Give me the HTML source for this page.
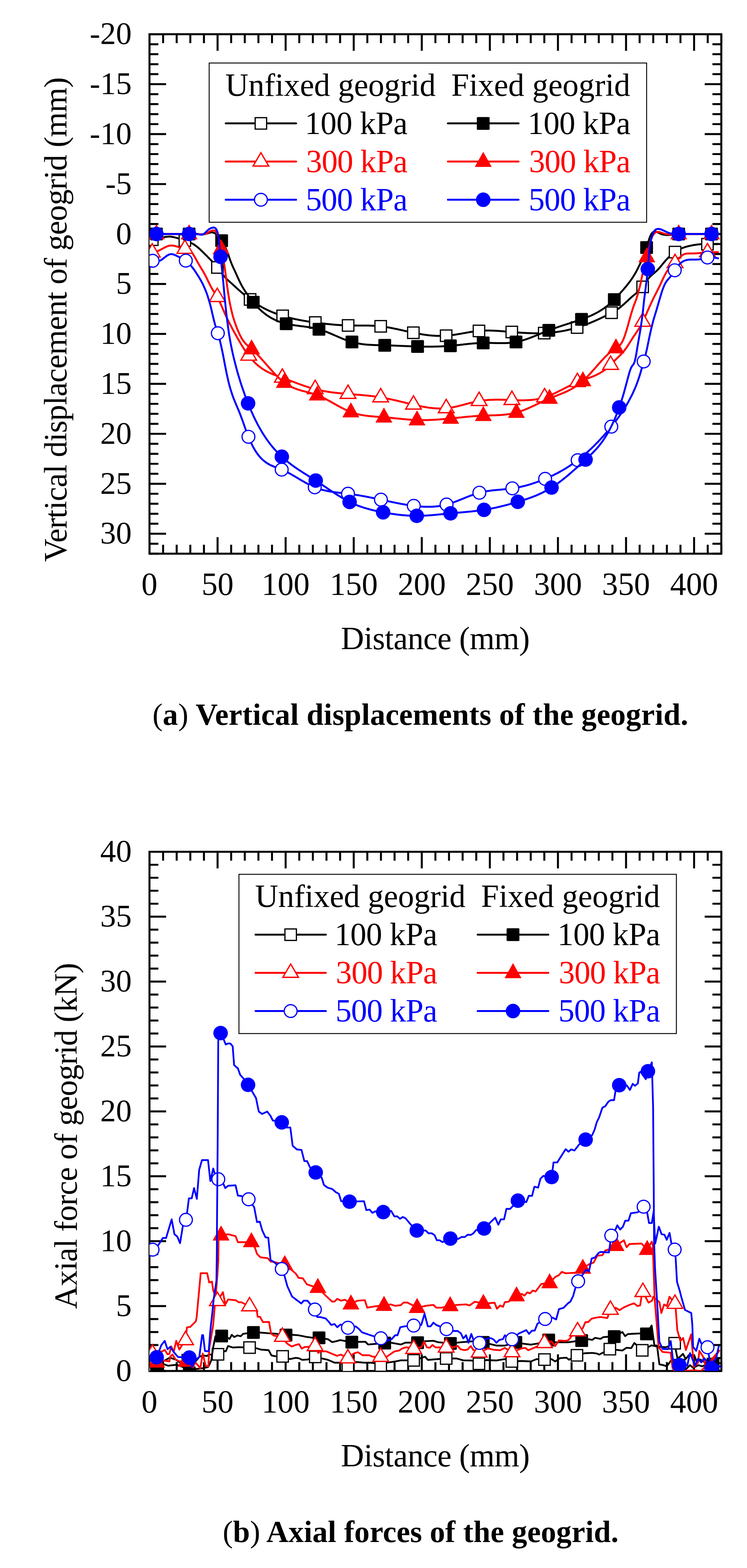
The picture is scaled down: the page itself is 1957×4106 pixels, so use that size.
<!DOCTYPE html>
<html><head><meta charset="utf-8"><style>html,body{margin:0;padding:0;background:#fff}svg{display:block}</style></head>
<body>
<svg width="1957" height="4106" viewBox="0 0 1957 4106" font-family="Liberation Serif, serif">
<rect width="1957" height="4106" fill="#fff"/>
<path d="M391.6,1449.9v-43.5M391.6,89.6v43.5M427.3,1449.9v-23.3M427.3,89.6v23.3M462.9,1449.9v-23.3M462.9,89.6v23.3M498.6,1449.9v-23.3M498.6,89.6v23.3M534.3,1449.9v-23.3M534.3,89.6v23.3M570.0,1449.9v-43.5M570.0,89.6v43.5M605.6,1449.9v-23.3M605.6,89.6v23.3M641.3,1449.9v-23.3M641.3,89.6v23.3M677.0,1449.9v-23.3M677.0,89.6v23.3M712.6,1449.9v-23.3M712.6,89.6v23.3M748.3,1449.9v-43.5M748.3,89.6v43.5M784.0,1449.9v-23.3M784.0,89.6v23.3M819.6,1449.9v-23.3M819.6,89.6v23.3M855.3,1449.9v-23.3M855.3,89.6v23.3M891.0,1449.9v-23.3M891.0,89.6v23.3M926.7,1449.9v-43.5M926.7,89.6v43.5M962.3,1449.9v-23.3M962.3,89.6v23.3M998.0,1449.9v-23.3M998.0,89.6v23.3M1033.7,1449.9v-23.3M1033.7,89.6v23.3M1069.3,1449.9v-23.3M1069.3,89.6v23.3M1105.0,1449.9v-43.5M1105.0,89.6v43.5M1140.7,1449.9v-23.3M1140.7,89.6v23.3M1176.3,1449.9v-23.3M1176.3,89.6v23.3M1212.0,1449.9v-23.3M1212.0,89.6v23.3M1247.7,1449.9v-23.3M1247.7,89.6v23.3M1283.3,1449.9v-43.5M1283.3,89.6v43.5M1319.0,1449.9v-23.3M1319.0,89.6v23.3M1354.7,1449.9v-23.3M1354.7,89.6v23.3M1390.4,1449.9v-23.3M1390.4,89.6v23.3M1426.0,1449.9v-23.3M1426.0,89.6v23.3M1461.7,1449.9v-43.5M1461.7,89.6v43.5M1497.4,1449.9v-23.3M1497.4,89.6v23.3M1533.0,1449.9v-23.3M1533.0,89.6v23.3M1568.7,1449.9v-23.3M1568.7,89.6v23.3M1604.4,1449.9v-23.3M1604.4,89.6v23.3M1640.1,1449.9v-43.5M1640.1,89.6v43.5M1675.7,1449.9v-23.3M1675.7,89.6v23.3M1711.4,1449.9v-23.3M1711.4,89.6v23.3M1747.1,1449.9v-23.3M1747.1,89.6v23.3M1782.7,1449.9v-23.3M1782.7,89.6v23.3M1818.4,1449.9v-43.5M1818.4,89.6v43.5M1854.1,1449.9v-23.3M1854.1,89.6v23.3M1889.7,1449.9v-23.3M1889.7,89.6v23.3M391.6,89.6h43.5M1889.7,89.6h-43.5M391.6,115.8h23.3M1889.7,115.8h-23.3M391.6,141.9h23.3M1889.7,141.9h-23.3M391.6,168.1h23.3M1889.7,168.1h-23.3M391.6,194.2h23.3M1889.7,194.2h-23.3M391.6,220.4h43.5M1889.7,220.4h-43.5M391.6,246.6h23.3M1889.7,246.6h-23.3M391.6,272.7h23.3M1889.7,272.7h-23.3M391.6,298.9h23.3M1889.7,298.9h-23.3M391.6,325.0h23.3M1889.7,325.0h-23.3M391.6,351.2h43.5M1889.7,351.2h-43.5M391.6,377.4h23.3M1889.7,377.4h-23.3M391.6,403.5h23.3M1889.7,403.5h-23.3M391.6,429.7h23.3M1889.7,429.7h-23.3M391.6,455.8h23.3M1889.7,455.8h-23.3M391.6,482.0h43.5M1889.7,482.0h-43.5M391.6,508.2h23.3M1889.7,508.2h-23.3M391.6,534.3h23.3M1889.7,534.3h-23.3M391.6,560.5h23.3M1889.7,560.5h-23.3M391.6,586.6h23.3M1889.7,586.6h-23.3M391.6,612.8h43.5M1889.7,612.8h-43.5M391.6,639.0h23.3M1889.7,639.0h-23.3M391.6,665.1h23.3M1889.7,665.1h-23.3M391.6,691.3h23.3M1889.7,691.3h-23.3M391.6,717.4h23.3M1889.7,717.4h-23.3M391.6,743.6h43.5M1889.7,743.6h-43.5M391.6,769.8h23.3M1889.7,769.8h-23.3M391.6,795.9h23.3M1889.7,795.9h-23.3M391.6,822.1h23.3M1889.7,822.1h-23.3M391.6,848.2h23.3M1889.7,848.2h-23.3M391.6,874.4h43.5M1889.7,874.4h-43.5M391.6,900.6h23.3M1889.7,900.6h-23.3M391.6,926.7h23.3M1889.7,926.7h-23.3M391.6,952.9h23.3M1889.7,952.9h-23.3M391.6,979.0h23.3M1889.7,979.0h-23.3M391.6,1005.2h43.5M1889.7,1005.2h-43.5M391.6,1031.4h23.3M1889.7,1031.4h-23.3M391.6,1057.5h23.3M1889.7,1057.5h-23.3M391.6,1083.7h23.3M1889.7,1083.7h-23.3M391.6,1109.8h23.3M1889.7,1109.8h-23.3M391.6,1136.0h43.5M1889.7,1136.0h-43.5M391.6,1162.2h23.3M1889.7,1162.2h-23.3M391.6,1188.3h23.3M1889.7,1188.3h-23.3M391.6,1214.5h23.3M1889.7,1214.5h-23.3M391.6,1240.6h23.3M1889.7,1240.6h-23.3M391.6,1266.8h43.5M1889.7,1266.8h-43.5M391.6,1293.0h23.3M1889.7,1293.0h-23.3M391.6,1319.1h23.3M1889.7,1319.1h-23.3M391.6,1345.3h23.3M1889.7,1345.3h-23.3M391.6,1371.4h23.3M1889.7,1371.4h-23.3M391.6,1397.6h43.5M1889.7,1397.6h-43.5M391.6,1423.8h23.3M1889.7,1423.8h-23.3M391.6,1449.9h23.3M1889.7,1449.9h-23.3" stroke="#000" stroke-width="5.2" fill="none"/>
<rect x="391.6" y="89.6" width="1498.1" height="1360.3" stroke="#000" stroke-width="5.2" fill="none"/>
<text x="345.0" y="115.4" font-size="82.5" text-anchor="end">-20</text>
<text x="345.0" y="246.2" font-size="82.5" text-anchor="end">-15</text>
<text x="345.0" y="377.0" font-size="82.5" text-anchor="end">-10</text>
<text x="345.0" y="507.8" font-size="82.5" text-anchor="end">-5</text>
<text x="345.0" y="638.6" font-size="82.5" text-anchor="end">0</text>
<text x="345.0" y="769.4" font-size="82.5" text-anchor="end">5</text>
<text x="345.0" y="900.2" font-size="82.5" text-anchor="end">10</text>
<text x="345.0" y="1031.0" font-size="82.5" text-anchor="end">15</text>
<text x="345.0" y="1161.8" font-size="82.5" text-anchor="end">20</text>
<text x="345.0" y="1292.6" font-size="82.5" text-anchor="end">25</text>
<text x="345.0" y="1423.4" font-size="82.5" text-anchor="end">30</text>
<text x="391.6" y="1558.1" font-size="84" text-anchor="middle">0</text>
<text x="570.0" y="1558.1" font-size="84" text-anchor="middle">50</text>
<text x="748.3" y="1558.1" font-size="84" text-anchor="middle">100</text>
<text x="926.7" y="1558.1" font-size="84" text-anchor="middle">150</text>
<text x="1105.0" y="1558.1" font-size="84" text-anchor="middle">200</text>
<text x="1283.3" y="1558.1" font-size="84" text-anchor="middle">250</text>
<text x="1461.7" y="1558.1" font-size="84" text-anchor="middle">300</text>
<text x="1640.1" y="1558.1" font-size="84" text-anchor="middle">350</text>
<text x="1818.4" y="1558.1" font-size="84" text-anchor="middle">400</text>
<path d="M391.6,3590.1v-43.5M391.6,2230.5v43.5M427.3,3590.1v-23.3M427.3,2230.5v23.3M462.9,3590.1v-23.3M462.9,2230.5v23.3M498.6,3590.1v-23.3M498.6,2230.5v23.3M534.3,3590.1v-23.3M534.3,2230.5v23.3M570.0,3590.1v-43.5M570.0,2230.5v43.5M605.6,3590.1v-23.3M605.6,2230.5v23.3M641.3,3590.1v-23.3M641.3,2230.5v23.3M677.0,3590.1v-23.3M677.0,2230.5v23.3M712.6,3590.1v-23.3M712.6,2230.5v23.3M748.3,3590.1v-43.5M748.3,2230.5v43.5M784.0,3590.1v-23.3M784.0,2230.5v23.3M819.6,3590.1v-23.3M819.6,2230.5v23.3M855.3,3590.1v-23.3M855.3,2230.5v23.3M891.0,3590.1v-23.3M891.0,2230.5v23.3M926.7,3590.1v-43.5M926.7,2230.5v43.5M962.3,3590.1v-23.3M962.3,2230.5v23.3M998.0,3590.1v-23.3M998.0,2230.5v23.3M1033.7,3590.1v-23.3M1033.7,2230.5v23.3M1069.3,3590.1v-23.3M1069.3,2230.5v23.3M1105.0,3590.1v-43.5M1105.0,2230.5v43.5M1140.7,3590.1v-23.3M1140.7,2230.5v23.3M1176.3,3590.1v-23.3M1176.3,2230.5v23.3M1212.0,3590.1v-23.3M1212.0,2230.5v23.3M1247.7,3590.1v-23.3M1247.7,2230.5v23.3M1283.3,3590.1v-43.5M1283.3,2230.5v43.5M1319.0,3590.1v-23.3M1319.0,2230.5v23.3M1354.7,3590.1v-23.3M1354.7,2230.5v23.3M1390.4,3590.1v-23.3M1390.4,2230.5v23.3M1426.0,3590.1v-23.3M1426.0,2230.5v23.3M1461.7,3590.1v-43.5M1461.7,2230.5v43.5M1497.4,3590.1v-23.3M1497.4,2230.5v23.3M1533.0,3590.1v-23.3M1533.0,2230.5v23.3M1568.7,3590.1v-23.3M1568.7,2230.5v23.3M1604.4,3590.1v-23.3M1604.4,2230.5v23.3M1640.1,3590.1v-43.5M1640.1,2230.5v43.5M1675.7,3590.1v-23.3M1675.7,2230.5v23.3M1711.4,3590.1v-23.3M1711.4,2230.5v23.3M1747.1,3590.1v-23.3M1747.1,2230.5v23.3M1782.7,3590.1v-23.3M1782.7,2230.5v23.3M1818.4,3590.1v-43.5M1818.4,2230.5v43.5M1854.1,3590.1v-23.3M1854.1,2230.5v23.3M1889.7,3590.1v-23.3M1889.7,2230.5v23.3M391.6,3590.1h43.5M1889.7,3590.1h-43.5M391.6,3556.1h23.3M1889.7,3556.1h-23.3M391.6,3522.1h23.3M1889.7,3522.1h-23.3M391.6,3488.1h23.3M1889.7,3488.1h-23.3M391.6,3454.1h23.3M1889.7,3454.1h-23.3M391.6,3420.2h43.5M1889.7,3420.2h-43.5M391.6,3386.2h23.3M1889.7,3386.2h-23.3M391.6,3352.2h23.3M1889.7,3352.2h-23.3M391.6,3318.2h23.3M1889.7,3318.2h-23.3M391.6,3284.2h23.3M1889.7,3284.2h-23.3M391.6,3250.2h43.5M1889.7,3250.2h-43.5M391.6,3216.2h23.3M1889.7,3216.2h-23.3M391.6,3182.2h23.3M1889.7,3182.2h-23.3M391.6,3148.2h23.3M1889.7,3148.2h-23.3M391.6,3114.2h23.3M1889.7,3114.2h-23.3M391.6,3080.2h43.5M1889.7,3080.2h-43.5M391.6,3046.3h23.3M1889.7,3046.3h-23.3M391.6,3012.3h23.3M1889.7,3012.3h-23.3M391.6,2978.3h23.3M1889.7,2978.3h-23.3M391.6,2944.3h23.3M1889.7,2944.3h-23.3M391.6,2910.3h43.5M1889.7,2910.3h-43.5M391.6,2876.3h23.3M1889.7,2876.3h-23.3M391.6,2842.3h23.3M1889.7,2842.3h-23.3M391.6,2808.3h23.3M1889.7,2808.3h-23.3M391.6,2774.3h23.3M1889.7,2774.3h-23.3M391.6,2740.3h43.5M1889.7,2740.3h-43.5M391.6,2706.4h23.3M1889.7,2706.4h-23.3M391.6,2672.4h23.3M1889.7,2672.4h-23.3M391.6,2638.4h23.3M1889.7,2638.4h-23.3M391.6,2604.4h23.3M1889.7,2604.4h-23.3M391.6,2570.4h43.5M1889.7,2570.4h-43.5M391.6,2536.4h23.3M1889.7,2536.4h-23.3M391.6,2502.4h23.3M1889.7,2502.4h-23.3M391.6,2468.4h23.3M1889.7,2468.4h-23.3M391.6,2434.4h23.3M1889.7,2434.4h-23.3M391.6,2400.4h43.5M1889.7,2400.4h-43.5M391.6,2366.5h23.3M1889.7,2366.5h-23.3M391.6,2332.5h23.3M1889.7,2332.5h-23.3M391.6,2298.5h23.3M1889.7,2298.5h-23.3M391.6,2264.5h23.3M1889.7,2264.5h-23.3M391.6,2230.5h43.5M1889.7,2230.5h-43.5" stroke="#000" stroke-width="5.2" fill="none"/>
<rect x="391.6" y="2230.5" width="1498.1" height="1359.6" stroke="#000" stroke-width="5.2" fill="none"/>
<text x="345.0" y="3615.9" font-size="82.5" text-anchor="end">0</text>
<text x="345.0" y="3446.0" font-size="82.5" text-anchor="end">5</text>
<text x="345.0" y="3276.0" font-size="82.5" text-anchor="end">10</text>
<text x="345.0" y="3106.1" font-size="82.5" text-anchor="end">15</text>
<text x="345.0" y="2936.1" font-size="82.5" text-anchor="end">20</text>
<text x="345.0" y="2766.2" font-size="82.5" text-anchor="end">25</text>
<text x="345.0" y="2596.2" font-size="82.5" text-anchor="end">30</text>
<text x="345.0" y="2426.2" font-size="82.5" text-anchor="end">35</text>
<text x="345.0" y="2256.3" font-size="82.5" text-anchor="end">40</text>
<text x="391.6" y="3699.1" font-size="84" text-anchor="middle">0</text>
<text x="570.0" y="3699.1" font-size="84" text-anchor="middle">50</text>
<text x="748.3" y="3699.1" font-size="84" text-anchor="middle">100</text>
<text x="926.7" y="3699.1" font-size="84" text-anchor="middle">150</text>
<text x="1105.0" y="3699.1" font-size="84" text-anchor="middle">200</text>
<text x="1283.3" y="3699.1" font-size="84" text-anchor="middle">250</text>
<text x="1461.7" y="3699.1" font-size="84" text-anchor="middle">300</text>
<text x="1640.1" y="3699.1" font-size="84" text-anchor="middle">350</text>
<text x="1818.4" y="3699.1" font-size="84" text-anchor="middle">400</text>
<defs><clipPath id="ca"><rect x="391.6" y="89.6" width="1498.1" height="1360.3"/></clipPath><clipPath id="cb"><rect x="391.6" y="2230.5" width="1498.1" height="1359.6"/></clipPath></defs>
<g clip-path="url(#ca)">
<path d="M393.7,628.5 395.5,628.2 397.3,628.0 399.1,627.7 400.9,627.4 402.7,627.1 404.4,626.7 406.2,626.3 408.0,626.0 409.8,625.6 411.6,625.2 413.4,624.8 415.1,624.3 416.9,623.9 418.7,623.5 420.5,623.1 422.3,622.7 424.1,622.3 425.8,621.9 427.6,621.5 429.4,621.1 431.2,620.8 433.0,620.5 434.8,620.2 436.5,620.0 438.3,619.8 440.1,619.7 441.9,619.6 443.7,619.6 445.5,619.6 447.2,619.7 449.0,619.9 450.8,620.2 452.6,620.5 454.4,620.8 456.2,621.2 457.9,621.6 459.7,622.1 461.5,622.6 463.3,623.1 465.1,623.6 466.9,624.2 468.6,624.7 470.4,625.3 472.2,625.8 474.0,626.4 475.8,627.0 477.6,627.6 479.3,628.1 481.1,628.7 482.9,629.3 484.7,629.9 486.5,630.5 488.3,631.1 490.0,631.7 491.8,632.4 493.6,633.1 495.4,633.8 497.2,634.5 499.0,635.3 500.8,636.2 502.5,637.1 504.3,638.1 506.1,639.1 507.9,640.2 509.7,641.4 511.5,642.6 513.2,643.9 515.0,645.2 516.8,646.6 518.6,648.1 520.4,649.6 522.2,651.2 523.9,652.8 525.7,654.5 527.5,656.1 529.3,657.9 531.1,659.6 532.9,661.4 534.6,663.1 536.4,664.9 538.2,666.7 540.0,668.5 541.8,670.3 543.6,672.1 545.3,673.9 547.1,675.7 548.9,677.5 550.7,679.3 552.5,681.1 554.3,682.9 556.0,684.8 557.8,686.7 559.6,688.6 561.4,690.6 563.2,692.6 565.0,694.7 566.7,696.9 568.5,699.1 570.3,701.4 572.1,703.7 573.9,706.1 575.7,708.5 577.4,711.0 579.2,713.4 581.0,715.8 582.8,718.1 584.6,720.3 586.4,722.5 588.1,724.5 589.9,726.4 591.7,728.3 593.5,730.1 595.3,731.8 597.1,733.5 598.8,735.1 600.6,736.8 602.4,738.4 604.2,740.0 606.0,741.6 607.8,743.2 609.5,744.8 611.3,746.4 613.1,748.0 614.9,749.6 616.7,751.3 618.5,752.9 620.2,754.5 622.0,756.1 623.8,757.7 625.6,759.3 627.4,760.9 629.2,762.4 630.9,764.0 632.7,765.6 634.5,767.1 636.3,768.7 638.1,770.2 639.9,771.8 641.6,773.3 643.4,774.8 645.2,776.2 647.0,777.7 648.8,779.1 650.6,780.6 652.3,782.0 654.1,783.3 655.9,784.7 657.7,786.0 659.5,787.3 661.3,788.6 663.0,789.9 664.8,791.1 666.6,792.3 668.4,793.5 670.2,794.7 672.0,795.9 673.7,797.0 675.5,798.1 677.3,799.2 679.1,800.3 680.9,801.3 682.7,802.4 684.5,803.4 686.2,804.4 688.0,805.4 689.8,806.3 691.6,807.3 693.4,808.2 695.2,809.1 696.9,810.0 698.7,810.8 700.5,811.7 702.3,812.5 704.1,813.4 705.9,814.2 707.6,815.0 709.4,815.7 711.2,816.5 713.0,817.2 714.8,818.0 716.6,818.7 718.3,819.4 720.1,820.1 721.9,820.7 723.7,821.4 725.5,822.1 727.3,822.7 729.0,823.3 730.8,823.9 732.6,824.5 734.4,825.1 736.2,825.7 738.0,826.3 739.7,826.8 741.5,827.4 743.3,827.9 745.1,828.4 746.9,829.0 748.7,829.5 750.4,830.0 752.2,830.5 754.0,830.9 755.8,831.4 757.6,831.9 759.4,832.3 761.1,832.8 762.9,833.2 764.7,833.6 766.5,834.0 768.3,834.5 770.1,834.9 771.8,835.3 773.6,835.7 775.4,836.0 777.2,836.4 779.0,836.8 780.8,837.1 782.5,837.5 784.3,837.8 786.1,838.2 787.9,838.5 789.7,838.9 791.5,839.2 793.2,839.5 795.0,839.8 796.8,840.1 798.6,840.4 800.4,840.7 802.2,841.0 803.9,841.3 805.7,841.6 807.5,841.9 809.3,842.2 811.1,842.4 812.9,842.7 814.6,843.0 816.4,843.2 818.2,843.5 820.0,843.7 821.8,844.0 823.6,844.2 825.3,844.5 827.1,844.7 828.9,845.0 830.7,845.2 832.5,845.4 834.3,845.7 836.0,845.9 837.8,846.1 839.6,846.4 841.4,846.6 843.2,846.8 845.0,847.0 846.7,847.2 848.5,847.4 850.3,847.6 852.1,847.8 853.9,848.0 855.7,848.2 857.5,848.4 859.2,848.6 861.0,848.8 862.8,849.0 864.6,849.1 866.4,849.3 868.2,849.5 869.9,849.7 871.7,849.8 873.5,850.0 875.3,850.1 877.1,850.3 878.9,850.4 880.6,850.5 882.4,850.7 884.2,850.8 886.0,850.9 887.8,851.0 889.6,851.2 891.3,851.3 893.1,851.4 894.9,851.5 896.7,851.6 898.5,851.7 900.3,851.7 902.0,851.8 903.8,851.9 905.6,852.0 907.4,852.0 909.2,852.1 911.0,852.1 912.7,852.2 914.5,852.2 916.3,852.3 918.1,852.3 919.9,852.3 921.7,852.3 923.4,852.3 925.2,852.4 927.0,852.4 928.8,852.4 930.6,852.4 932.4,852.4 934.1,852.4 935.9,852.4 937.7,852.4 939.5,852.4 941.3,852.4 943.1,852.4 944.8,852.4 946.6,852.4 948.4,852.4 950.2,852.4 952.0,852.4 953.8,852.4 955.5,852.4 957.3,852.5 959.1,852.5 960.9,852.5 962.7,852.5 964.5,852.6 966.2,852.6 968.0,852.7 969.8,852.7 971.6,852.8 973.4,852.8 975.2,852.9 976.9,853.0 978.7,853.1 980.5,853.2 982.3,853.3 984.1,853.4 985.9,853.5 987.6,853.6 989.4,853.8 991.2,853.9 993.0,854.1 994.8,854.3 996.6,854.4 998.3,854.6 1000.1,854.8 1001.9,855.1 1003.7,855.3 1005.5,855.5 1007.3,855.8 1009.0,856.1 1010.8,856.3 1012.6,856.6 1014.4,856.9 1016.2,857.2 1018.0,857.5 1019.7,857.8 1021.5,858.1 1023.3,858.5 1025.1,858.8 1026.9,859.2 1028.7,859.5 1030.4,859.9 1032.2,860.2 1034.0,860.6 1035.8,861.0 1037.6,861.3 1039.4,861.7 1041.2,862.1 1042.9,862.5 1044.7,862.9 1046.5,863.3 1048.3,863.7 1050.1,864.1 1051.9,864.5 1053.6,864.8 1055.4,865.2 1057.2,865.6 1059.0,866.1 1060.8,866.5 1062.6,866.9 1064.3,867.3 1066.1,867.6 1067.9,868.0 1069.7,868.4 1071.5,868.8 1073.3,869.2 1075.0,869.6 1076.8,870.0 1078.6,870.4 1080.4,870.7 1082.2,871.1 1084.0,871.5 1085.7,871.8 1087.5,872.2 1089.3,872.5 1091.1,872.9 1092.9,873.2 1094.7,873.6 1096.4,873.9 1098.2,874.2 1100.0,874.5 1101.8,874.8 1103.6,875.1 1105.4,875.4 1107.1,875.7 1108.9,876.0 1110.7,876.2 1112.5,876.5 1114.3,876.7 1116.1,877.0 1117.8,877.2 1119.6,877.4 1121.4,877.7 1123.2,877.9 1125.0,878.1 1126.8,878.2 1128.5,878.4 1130.3,878.6 1132.1,878.7 1133.9,878.9 1135.7,879.0 1137.5,879.1 1139.2,879.2 1141.0,879.3 1142.8,879.4 1144.6,879.5 1146.4,879.5 1148.2,879.6 1149.9,879.6 1151.7,879.6 1153.5,879.6 1155.3,879.6 1157.1,879.6 1158.9,879.6 1160.6,879.5 1162.4,879.5 1164.2,879.4 1166.0,879.3 1167.8,879.2 1169.6,879.1 1171.3,878.9 1173.1,878.8 1174.9,878.6 1176.7,878.4 1178.5,878.2 1180.3,878.0 1182.0,877.8 1183.8,877.6 1185.6,877.3 1187.4,877.1 1189.2,876.8 1191.0,876.6 1192.7,876.3 1194.5,876.0 1196.3,875.7 1198.1,875.4 1199.9,875.1 1201.7,874.8 1203.4,874.5 1205.2,874.2 1207.0,873.9 1208.8,873.6 1210.6,873.2 1212.4,872.9 1214.2,872.6 1215.9,872.3 1217.7,872.0 1219.5,871.6 1221.3,871.3 1223.1,871.0 1224.9,870.7 1226.6,870.4 1228.4,870.1 1230.2,869.8 1232.0,869.5 1233.8,869.2 1235.6,868.9 1237.3,868.7 1239.1,868.4 1240.9,868.2 1242.7,867.9 1244.5,867.7 1246.3,867.5 1248.0,867.2 1249.8,867.0 1251.6,866.9 1253.4,866.7 1255.2,866.5 1257.0,866.4 1258.7,866.2 1260.5,866.1 1262.3,866.0 1264.1,865.9 1265.9,865.8 1267.7,865.8 1269.4,865.7 1271.2,865.7 1273.0,865.6 1274.8,865.6 1276.6,865.6 1278.4,865.6 1280.1,865.6 1281.9,865.6 1283.7,865.6 1285.5,865.7 1287.3,865.7 1289.1,865.8 1290.8,865.8 1292.6,865.9 1294.4,866.0 1296.2,866.1 1298.0,866.2 1299.8,866.2 1301.5,866.3 1303.3,866.5 1305.1,866.6 1306.9,866.7 1308.7,866.8 1310.5,866.9 1312.2,867.1 1314.0,867.2 1315.8,867.3 1317.6,867.5 1319.4,867.6 1321.2,867.8 1322.9,867.9 1324.7,868.1 1326.5,868.2 1328.3,868.4 1330.1,868.5 1331.9,868.7 1333.6,868.8 1335.4,869.0 1337.2,869.1 1339.0,869.3 1340.8,869.4 1342.6,869.6 1344.3,869.7 1346.1,869.9 1347.9,870.0 1349.7,870.2 1351.5,870.3 1353.3,870.4 1355.0,870.6 1356.8,870.7 1358.6,870.8 1360.4,871.0 1362.2,871.1 1364.0,871.2 1365.7,871.3 1367.5,871.4 1369.3,871.5 1371.1,871.6 1372.9,871.7 1374.7,871.8 1376.4,871.9 1378.2,872.0 1380.0,872.1 1381.8,872.2 1383.6,872.3 1385.4,872.3 1387.1,872.4 1388.9,872.5 1390.7,872.5 1392.5,872.6 1394.3,872.6 1396.1,872.7 1397.9,872.7 1399.6,872.7 1401.4,872.7 1403.2,872.7 1405.0,872.8 1406.8,872.8 1408.6,872.7 1410.3,872.7 1412.1,872.7 1413.9,872.7 1415.7,872.6 1417.5,872.6 1419.3,872.6 1421.0,872.5 1422.8,872.4 1424.6,872.4 1426.4,872.3 1428.2,872.2 1430.0,872.1 1431.7,872.0 1433.5,871.9 1435.3,871.7 1437.1,871.6 1438.9,871.5 1440.7,871.3 1442.4,871.2 1444.2,871.0 1446.0,870.8 1447.8,870.6 1449.6,870.4 1451.4,870.2 1453.1,870.0 1454.9,869.8 1456.7,869.6 1458.5,869.3 1460.3,869.1 1462.1,868.8 1463.8,868.5 1465.6,868.3 1467.4,868.0 1469.2,867.7 1471.0,867.4 1472.8,867.1 1474.5,866.7 1476.3,866.4 1478.1,866.1 1479.9,865.7 1481.7,865.4 1483.5,865.0 1485.2,864.6 1487.0,864.2 1488.8,863.8 1490.6,863.4 1492.4,863.0 1494.2,862.5 1495.9,862.1 1497.7,861.6 1499.5,861.2 1501.3,860.7 1503.1,860.2 1504.9,859.7 1506.6,859.2 1508.4,858.7 1510.2,858.2 1512.0,857.7 1513.8,857.1 1515.6,856.6 1517.3,856.0 1519.1,855.4 1520.9,854.8 1522.7,854.2 1524.5,853.6 1526.3,853.0 1528.0,852.4 1529.8,851.7 1531.6,851.1 1533.4,850.4 1535.2,849.8 1537.0,849.1 1538.7,848.4 1540.5,847.7 1542.3,847.0 1544.1,846.3 1545.9,845.6 1547.7,844.9 1549.4,844.1 1551.2,843.4 1553.0,842.6 1554.8,841.9 1556.6,841.1 1558.4,840.3 1560.1,839.5 1561.9,838.7 1563.7,837.9 1565.5,837.1 1567.3,836.3 1569.1,835.5 1570.9,834.7 1572.6,833.8 1574.4,833.0 1576.2,832.1 1578.0,831.3 1579.8,830.4 1581.6,829.5 1583.3,828.7 1585.1,827.8 1586.9,826.9 1588.7,826.0 1590.5,825.1 1592.3,824.2 1594.0,823.2 1595.8,822.3 1597.6,821.4 1599.4,820.4 1601.2,819.5 1603.0,818.6 1604.7,817.6 1606.5,816.6 1608.3,815.7 1610.1,814.6 1611.9,813.6 1613.7,812.5 1615.4,811.4 1617.2,810.2 1619.0,809.0 1620.8,807.7 1622.6,806.4 1624.4,805.0 1626.1,803.6 1627.9,802.1 1629.7,800.6 1631.5,799.1 1633.3,797.6 1635.1,796.0 1636.8,794.4 1638.6,792.7 1640.4,791.1 1642.2,789.4 1644.0,787.8 1645.8,786.1 1647.5,784.5 1649.3,782.8 1651.1,781.2 1652.9,779.6 1654.7,778.0 1656.5,776.4 1658.2,774.9 1660.0,773.4 1661.8,771.9 1663.6,770.5 1665.4,769.1 1667.2,767.6 1668.9,766.2 1670.7,764.7 1672.5,763.1 1674.3,761.5 1676.1,759.7 1677.9,757.9 1679.6,756.0 1681.4,753.9 1683.2,751.7 1685.0,749.3 1686.8,746.7 1688.6,744.1 1690.3,741.4 1692.1,738.7 1693.9,736.1 1695.7,733.5 1697.5,731.1 1699.3,728.8 1701.0,726.7 1702.8,724.7 1704.6,722.9 1706.4,721.2 1708.2,719.6 1710.0,718.1 1711.7,716.6 1713.5,715.1 1715.3,713.6 1717.1,712.1 1718.9,710.5 1720.7,708.9 1722.4,707.1 1724.2,705.3 1726.0,703.3 1727.8,701.3 1729.6,699.3 1731.4,697.1 1733.1,695.0 1734.9,692.8 1736.7,690.6 1738.5,688.5 1740.3,686.3 1742.1,684.2 1743.8,682.2 1745.6,680.2 1747.4,678.2 1749.2,676.4 1751.0,674.6 1752.8,672.9 1754.6,671.2 1756.3,669.6 1758.1,668.1 1759.9,666.6 1761.7,665.1 1763.5,663.8 1765.3,662.4 1767.0,661.1 1768.8,659.9 1770.6,658.7 1772.4,657.6 1774.2,656.5 1776.0,655.4 1777.7,654.4 1779.5,653.4 1781.3,652.5 1783.1,651.6 1784.9,650.8 1786.7,650.0 1788.4,649.3 1790.2,648.6 1792.0,648.0 1793.8,647.4 1795.6,646.8 1797.4,646.2 1799.1,645.7 1800.9,645.3 1802.7,644.8 1804.5,644.4 1806.3,644.0 1808.1,643.6 1809.8,643.2 1811.6,642.9 1813.4,642.5 1815.2,642.2 1817.0,641.8 1818.8,641.5 1820.5,641.2 1822.3,640.9 1824.1,640.7 1825.9,640.4 1827.7,640.2 1829.5,640.0 1831.2,639.9 1833.0,639.7 1834.8,639.6 1836.6,639.5 1838.4,639.4 1840.2,639.4 1841.9,639.4 1843.7,639.4 1845.5,639.4 1847.3,639.4 1849.1,639.4 1850.9,639.5 1852.6,639.5 1854.4,639.5 1856.2,639.5 1858.0,639.5 1859.8,639.5 1861.6,639.5 1863.3,639.4 1865.1,639.4 1866.9,639.4 1868.7,639.3 1870.5,639.3 1872.3,639.2 1874.0,639.2 1875.8,639.1 1877.6,639.1 1879.4,639.0 1881.2,639.0" fill="none" stroke="#000" stroke-width="5" stroke-linejoin="round" stroke-linecap="round"/>
<rect x="384.0" y="612.7" width="30" height="30" fill="#fff" stroke="#000" stroke-width="3.2"/>
<rect x="469.3" y="614.8" width="30" height="30" fill="#fff" stroke="#000" stroke-width="3.2"/>
<rect x="554.6" y="685.4" width="30" height="30" fill="#fff" stroke="#000" stroke-width="3.2"/>
<rect x="640.2" y="769.1" width="30" height="30" fill="#fff" stroke="#000" stroke-width="3.2"/>
<rect x="725.5" y="812.1" width="30" height="30" fill="#fff" stroke="#000" stroke-width="3.2"/>
<rect x="811.1" y="829.6" width="30" height="30" fill="#fff" stroke="#000" stroke-width="3.2"/>
<rect x="897.0" y="837.2" width="30" height="30" fill="#fff" stroke="#000" stroke-width="3.2"/>
<rect x="982.3" y="839.5" width="30" height="30" fill="#fff" stroke="#000" stroke-width="3.2"/>
<rect x="1067.9" y="856.3" width="30" height="30" fill="#fff" stroke="#000" stroke-width="3.2"/>
<rect x="1153.8" y="864.1" width="30" height="30" fill="#fff" stroke="#000" stroke-width="3.2"/>
<rect x="1239.8" y="851.6" width="30" height="30" fill="#fff" stroke="#000" stroke-width="3.2"/>
<rect x="1325.8" y="854.4" width="30" height="30" fill="#fff" stroke="#000" stroke-width="3.2"/>
<rect x="1410.7" y="857.3" width="30" height="30" fill="#fff" stroke="#000" stroke-width="3.2"/>
<rect x="1497.0" y="842.7" width="30" height="30" fill="#fff" stroke="#000" stroke-width="3.2"/>
<rect x="1587.2" y="803.9" width="30" height="30" fill="#fff" stroke="#000" stroke-width="3.2"/>
<rect x="1668.6" y="736.2" width="30" height="30" fill="#fff" stroke="#000" stroke-width="3.2"/>
<rect x="1753.5" y="645.1" width="30" height="30" fill="#fff" stroke="#000" stroke-width="3.2"/>
<rect x="1838.4" y="624.5" width="30" height="30" fill="#fff" stroke="#000" stroke-width="3.2"/>
<path d="M393.7,662.5 395.5,662.2 397.3,661.8 399.1,661.4 400.9,661.1 402.7,660.7 404.4,660.3 406.2,659.8 408.0,659.4 409.8,658.8 411.6,658.2 413.4,657.5 415.1,656.7 416.9,655.9 418.7,655.0 420.5,654.1 422.3,653.1 424.1,652.1 425.8,651.2 427.6,650.2 429.4,649.2 431.2,648.3 433.0,647.3 434.8,646.5 436.5,645.7 438.3,645.0 440.1,644.4 441.9,643.8 443.7,643.4 445.5,643.1 447.2,642.9 449.0,642.9 450.8,642.9 452.6,643.1 454.4,643.3 456.2,643.6 457.9,644.0 459.7,644.5 461.5,645.0 463.3,645.5 465.1,646.1 466.9,646.7 468.6,647.3 470.4,647.9 472.2,648.5 474.0,649.0 475.8,649.6 477.6,650.1 479.3,650.6 481.1,651.1 482.9,651.5 484.7,651.8 486.5,652.2 488.3,652.5 490.0,652.9 491.8,653.4 493.6,654.0 495.4,654.9 497.2,655.9 499.0,657.3 500.8,659.1 502.5,661.1 504.3,663.5 506.1,666.1 507.9,669.0 509.7,672.0 511.5,675.2 513.2,678.4 515.0,681.7 516.8,684.9 518.6,688.1 520.4,691.2 522.2,694.3 523.9,697.2 525.7,700.2 527.5,703.1 529.3,706.1 531.1,709.0 532.9,712.1 534.6,715.2 536.4,718.5 538.2,721.8 540.0,725.3 541.8,728.9 543.6,732.6 545.3,736.2 547.1,739.9 548.9,743.5 550.7,747.1 552.5,750.5 554.3,753.8 556.0,756.9 557.8,759.9 559.6,762.7 561.4,765.4 563.2,768.1 565.0,770.8 566.7,773.6 568.5,776.6 570.3,779.8 572.1,783.2 573.9,786.8 575.7,790.6 577.4,794.4 579.2,798.4 581.0,802.5 582.8,806.6 584.6,810.7 586.4,814.8 588.1,818.9 589.9,822.9 591.7,826.8 593.5,830.6 595.3,834.3 597.1,838.0 598.8,841.6 600.6,845.1 602.4,848.6 604.2,852.0 606.0,855.4 607.8,858.8 609.5,862.2 611.3,865.5 613.1,868.8 614.9,872.1 616.7,875.3 618.5,878.5 620.2,881.7 622.0,884.9 623.8,888.0 625.6,891.1 627.4,894.2 629.2,897.2 630.9,900.2 632.7,903.2 634.5,906.1 636.3,909.0 638.1,911.8 639.9,914.6 641.6,917.3 643.4,920.0 645.2,922.6 647.0,925.1 648.8,927.6 650.6,930.0 652.3,932.4 654.1,934.6 655.9,936.8 657.7,938.9 659.5,941.0 661.3,943.0 663.0,944.9 664.8,946.8 666.6,948.6 668.4,950.3 670.2,952.0 672.0,953.7 673.7,955.2 675.5,956.8 677.3,958.2 679.1,959.7 680.9,961.0 682.7,962.4 684.5,963.6 686.2,964.9 688.0,966.1 689.8,967.2 691.6,968.3 693.4,969.4 695.2,970.5 696.9,971.5 698.7,972.4 700.5,973.4 702.3,974.3 704.1,975.2 705.9,976.0 707.6,976.8 709.4,977.7 711.2,978.4 713.0,979.2 714.8,979.9 716.6,980.7 718.3,981.4 720.1,982.1 721.9,982.8 723.7,983.4 725.5,984.1 727.3,984.8 729.0,985.4 730.8,986.0 732.6,986.7 734.4,987.3 736.2,988.0 738.0,988.6 739.7,989.2 741.5,989.9 743.3,990.5 745.1,991.2 746.9,991.9 748.7,992.5 750.4,993.2 752.2,993.8 754.0,994.5 755.8,995.2 757.6,995.8 759.4,996.5 761.1,997.2 762.9,997.9 764.7,998.5 766.5,999.2 768.3,999.9 770.1,1000.5 771.8,1001.2 773.6,1001.9 775.4,1002.6 777.2,1003.2 779.0,1003.9 780.8,1004.5 782.5,1005.2 784.3,1005.8 786.1,1006.5 787.9,1007.1 789.7,1007.8 791.5,1008.4 793.2,1009.0 795.0,1009.6 796.8,1010.3 798.6,1010.9 800.4,1011.5 802.2,1012.1 803.9,1012.6 805.7,1013.2 807.5,1013.8 809.3,1014.4 811.1,1014.9 812.9,1015.4 814.6,1016.0 816.4,1016.5 818.2,1017.0 820.0,1017.5 821.8,1018.0 823.6,1018.5 825.3,1019.0 827.1,1019.4 828.9,1019.9 830.7,1020.3 832.5,1020.7 834.3,1021.1 836.0,1021.6 837.8,1021.9 839.6,1022.3 841.4,1022.7 843.2,1023.1 845.0,1023.4 846.7,1023.7 848.5,1024.1 850.3,1024.4 852.1,1024.7 853.9,1025.0 855.7,1025.3 857.5,1025.6 859.2,1025.9 861.0,1026.2 862.8,1026.4 864.6,1026.7 866.4,1026.9 868.2,1027.2 869.9,1027.4 871.7,1027.6 873.5,1027.9 875.3,1028.1 877.1,1028.3 878.9,1028.5 880.6,1028.7 882.4,1028.9 884.2,1029.1 886.0,1029.3 887.8,1029.5 889.6,1029.6 891.3,1029.8 893.1,1030.0 894.9,1030.2 896.7,1030.3 898.5,1030.5 900.3,1030.6 902.0,1030.8 903.8,1031.0 905.6,1031.1 907.4,1031.3 909.2,1031.4 911.0,1031.5 912.7,1031.7 914.5,1031.8 916.3,1032.0 918.1,1032.1 919.9,1032.3 921.7,1032.4 923.4,1032.5 925.2,1032.7 927.0,1032.8 928.8,1033.0 930.6,1033.1 932.4,1033.2 934.1,1033.4 935.9,1033.5 937.7,1033.7 939.5,1033.8 941.3,1034.0 943.1,1034.1 944.8,1034.3 946.6,1034.4 948.4,1034.6 950.2,1034.8 952.0,1034.9 953.8,1035.1 955.5,1035.2 957.3,1035.4 959.1,1035.6 960.9,1035.8 962.7,1036.0 964.5,1036.1 966.2,1036.3 968.0,1036.5 969.8,1036.7 971.6,1036.9 973.4,1037.1 975.2,1037.4 976.9,1037.6 978.7,1037.8 980.5,1038.0 982.3,1038.3 984.1,1038.5 985.9,1038.8 987.6,1039.0 989.4,1039.3 991.2,1039.5 993.0,1039.8 994.8,1040.1 996.6,1040.4 998.3,1040.7 1000.1,1041.0 1001.9,1041.3 1003.7,1041.6 1005.5,1042.0 1007.3,1042.3 1009.0,1042.6 1010.8,1043.0 1012.6,1043.3 1014.4,1043.7 1016.2,1044.0 1018.0,1044.4 1019.7,1044.8 1021.5,1045.2 1023.3,1045.5 1025.1,1045.9 1026.9,1046.3 1028.7,1046.7 1030.4,1047.1 1032.2,1047.5 1034.0,1047.9 1035.8,1048.3 1037.6,1048.7 1039.4,1049.2 1041.2,1049.6 1042.9,1050.0 1044.7,1050.4 1046.5,1050.8 1048.3,1051.3 1050.1,1051.7 1051.9,1052.1 1053.6,1052.5 1055.4,1053.0 1057.2,1053.4 1059.0,1053.8 1060.8,1054.3 1062.6,1054.7 1064.3,1055.1 1066.1,1055.6 1067.9,1056.0 1069.7,1056.4 1071.5,1056.8 1073.3,1057.3 1075.0,1057.7 1076.8,1058.1 1078.6,1058.5 1080.4,1058.9 1082.2,1059.4 1084.0,1059.8 1085.7,1060.2 1087.5,1060.6 1089.3,1061.0 1091.1,1061.4 1092.9,1061.8 1094.7,1062.2 1096.4,1062.6 1098.2,1062.9 1100.0,1063.3 1101.8,1063.7 1103.6,1064.0 1105.4,1064.4 1107.1,1064.7 1108.9,1065.1 1110.7,1065.4 1112.5,1065.7 1114.3,1066.0 1116.1,1066.3 1117.8,1066.6 1119.6,1066.9 1121.4,1067.2 1123.2,1067.4 1125.0,1067.7 1126.8,1067.9 1128.5,1068.1 1130.3,1068.3 1132.1,1068.5 1133.9,1068.7 1135.7,1068.9 1137.5,1069.1 1139.2,1069.2 1141.0,1069.3 1142.8,1069.4 1144.6,1069.5 1146.4,1069.6 1148.2,1069.7 1149.9,1069.7 1151.7,1069.7 1153.5,1069.8 1155.3,1069.7 1157.1,1069.7 1158.9,1069.7 1160.6,1069.6 1162.4,1069.5 1164.2,1069.4 1166.0,1069.3 1167.8,1069.1 1169.6,1069.0 1171.3,1068.8 1173.1,1068.6 1174.9,1068.4 1176.7,1068.1 1178.5,1067.8 1180.3,1067.6 1182.0,1067.3 1183.8,1066.9 1185.6,1066.6 1187.4,1066.3 1189.2,1065.9 1191.0,1065.5 1192.7,1065.1 1194.5,1064.8 1196.3,1064.3 1198.1,1063.9 1199.9,1063.5 1201.7,1063.1 1203.4,1062.6 1205.2,1062.2 1207.0,1061.7 1208.8,1061.3 1210.6,1060.8 1212.4,1060.4 1214.2,1059.9 1215.9,1059.4 1217.7,1059.0 1219.5,1058.5 1221.3,1058.0 1223.1,1057.5 1224.9,1057.1 1226.6,1056.6 1228.4,1056.2 1230.2,1055.7 1232.0,1055.2 1233.8,1054.8 1235.6,1054.4 1237.3,1053.9 1239.1,1053.5 1240.9,1053.1 1242.7,1052.7 1244.5,1052.3 1246.3,1051.9 1248.0,1051.5 1249.8,1051.2 1251.6,1050.8 1253.4,1050.5 1255.2,1050.2 1257.0,1049.9 1258.7,1049.6 1260.5,1049.3 1262.3,1049.1 1264.1,1048.9 1265.9,1048.6 1267.7,1048.4 1269.4,1048.2 1271.2,1048.0 1273.0,1047.9 1274.8,1047.7 1276.6,1047.6 1278.4,1047.4 1280.1,1047.3 1281.9,1047.2 1283.7,1047.1 1285.5,1047.0 1287.3,1046.9 1289.1,1046.9 1290.8,1046.8 1292.6,1046.7 1294.4,1046.7 1296.2,1046.7 1298.0,1046.6 1299.8,1046.6 1301.5,1046.6 1303.3,1046.6 1305.1,1046.6 1306.9,1046.6 1308.7,1046.6 1310.5,1046.7 1312.2,1046.7 1314.0,1046.7 1315.8,1046.8 1317.6,1046.8 1319.4,1046.8 1321.2,1046.9 1322.9,1046.9 1324.7,1047.0 1326.5,1047.1 1328.3,1047.1 1330.1,1047.2 1331.9,1047.2 1333.6,1047.3 1335.4,1047.4 1337.2,1047.4 1339.0,1047.5 1340.8,1047.6 1342.6,1047.6 1344.3,1047.7 1346.1,1047.8 1347.9,1047.8 1349.7,1047.9 1351.5,1047.9 1353.3,1048.0 1355.0,1048.0 1356.8,1048.1 1358.6,1048.1 1360.4,1048.2 1362.2,1048.2 1364.0,1048.2 1365.7,1048.2 1367.5,1048.2 1369.3,1048.2 1371.1,1048.2 1372.9,1048.2 1374.7,1048.2 1376.4,1048.1 1378.2,1048.1 1380.0,1048.0 1381.8,1047.9 1383.6,1047.8 1385.4,1047.7 1387.1,1047.6 1388.9,1047.5 1390.7,1047.4 1392.5,1047.2 1394.3,1047.0 1396.1,1046.8 1397.9,1046.6 1399.6,1046.4 1401.4,1046.2 1403.2,1045.9 1405.0,1045.6 1406.8,1045.3 1408.6,1045.0 1410.3,1044.7 1412.1,1044.3 1413.9,1043.9 1415.7,1043.5 1417.5,1043.1 1419.3,1042.7 1421.0,1042.2 1422.8,1041.7 1424.6,1041.2 1426.4,1040.6 1428.2,1040.1 1430.0,1039.5 1431.7,1038.8 1433.5,1038.2 1435.3,1037.5 1437.1,1036.9 1438.9,1036.1 1440.7,1035.4 1442.4,1034.7 1444.2,1033.9 1446.0,1033.1 1447.8,1032.3 1449.6,1031.5 1451.4,1030.7 1453.1,1029.9 1454.9,1029.0 1456.7,1028.2 1458.5,1027.3 1460.3,1026.4 1462.1,1025.5 1463.8,1024.6 1465.6,1023.7 1467.4,1022.8 1469.2,1021.9 1471.0,1021.0 1472.8,1020.1 1474.5,1019.2 1476.3,1018.3 1478.1,1017.3 1479.9,1016.4 1481.7,1015.5 1483.5,1014.6 1485.2,1013.7 1487.0,1012.8 1488.8,1011.9 1490.6,1011.0 1492.4,1010.1 1494.2,1009.2 1495.9,1008.3 1497.7,1007.5 1499.5,1006.6 1501.3,1005.8 1503.1,1004.9 1504.9,1004.1 1506.6,1003.3 1508.4,1002.6 1510.2,1001.8 1512.0,1001.0 1513.8,1000.3 1515.6,999.6 1517.3,998.9 1519.1,998.2 1520.9,997.6 1522.7,996.9 1524.5,996.3 1526.3,995.6 1528.0,995.0 1529.8,994.4 1531.6,993.7 1533.4,993.1 1535.2,992.5 1537.0,991.9 1538.7,991.2 1540.5,990.6 1542.3,989.9 1544.1,989.3 1545.9,988.6 1547.7,988.0 1549.4,987.3 1551.2,986.6 1553.0,985.8 1554.8,985.1 1556.6,984.4 1558.4,983.6 1560.1,982.8 1561.9,981.9 1563.7,981.1 1565.5,980.2 1567.3,979.3 1569.1,978.3 1570.9,977.4 1572.6,976.4 1574.4,975.3 1576.2,974.2 1578.0,973.1 1579.8,971.9 1581.6,970.7 1583.3,969.5 1585.1,968.1 1586.9,966.8 1588.7,965.4 1590.5,963.9 1592.3,962.4 1594.0,960.9 1595.8,959.3 1597.6,957.6 1599.4,955.9 1601.2,954.1 1603.0,952.2 1604.7,950.3 1606.5,948.4 1608.3,946.6 1610.1,944.7 1611.9,942.8 1613.7,941.0 1615.4,939.3 1617.2,937.5 1619.0,935.8 1620.8,934.0 1622.6,932.3 1624.4,930.5 1626.1,928.7 1627.9,926.8 1629.7,924.9 1631.5,922.9 1633.3,920.8 1635.1,918.7 1636.8,916.4 1638.6,914.0 1640.4,911.6 1642.2,909.0 1644.0,906.3 1645.8,903.6 1647.5,900.8 1649.3,898.0 1651.1,895.2 1652.9,892.3 1654.7,889.5 1656.5,886.7 1658.2,883.9 1660.0,881.2 1661.8,878.5 1663.6,875.9 1665.4,873.3 1667.2,870.6 1668.9,868.0 1670.7,865.4 1672.5,862.6 1674.3,859.8 1676.1,857.0 1677.9,854.0 1679.6,850.9 1681.4,847.6 1683.2,844.2 1685.0,840.6 1686.8,836.8 1688.6,832.9 1690.3,828.9 1692.1,824.8 1693.9,820.7 1695.7,816.6 1697.5,812.5 1699.3,808.4 1701.0,804.4 1702.8,800.5 1704.6,796.6 1706.4,792.7 1708.2,788.9 1710.0,785.2 1711.7,781.5 1713.5,777.9 1715.3,774.4 1717.1,770.9 1718.9,767.4 1720.7,763.9 1722.4,760.4 1724.2,756.9 1726.0,753.3 1727.8,749.6 1729.6,745.8 1731.4,742.0 1733.1,738.1 1734.9,734.2 1736.7,730.4 1738.5,726.7 1740.3,723.1 1742.1,719.6 1743.8,716.3 1745.6,713.2 1747.4,710.4 1749.2,707.9 1751.0,705.6 1752.8,703.6 1754.6,701.7 1756.3,700.0 1758.1,698.4 1759.9,696.9 1761.7,695.4 1763.5,693.9 1765.3,692.3 1767.0,690.6 1768.8,688.8 1770.6,686.8 1772.4,684.8 1774.2,682.6 1776.0,680.4 1777.7,678.2 1779.5,676.1 1781.3,674.0 1783.1,672.2 1784.9,670.5 1786.7,669.0 1788.4,667.7 1790.2,666.7 1792.0,665.8 1793.8,665.2 1795.6,664.7 1797.4,664.3 1799.1,664.0 1800.9,663.9 1802.7,663.8 1804.5,663.8 1806.3,663.8 1808.1,663.8 1809.8,663.8 1811.6,663.8 1813.4,663.8 1815.2,663.8 1817.0,663.7 1818.8,663.7 1820.5,663.6 1822.3,663.5 1824.1,663.4 1825.9,663.2 1827.7,663.1 1829.5,662.9 1831.2,662.8 1833.0,662.6 1834.8,662.4 1836.6,662.2 1838.4,662.1 1840.2,661.9 1841.9,661.7 1843.7,661.5 1845.5,661.3 1847.3,661.2 1849.1,661.0 1850.9,660.9 1852.6,660.7 1854.4,660.6 1856.2,660.5 1858.0,660.4 1859.8,660.4 1861.6,660.3 1863.3,660.3 1865.1,660.3 1866.9,660.3 1868.7,660.3 1870.5,660.3 1872.3,660.3 1874.0,660.3 1875.8,660.3 1877.6,660.3 1879.4,660.4 1881.2,660.4" fill="none" stroke="#f00" stroke-width="5" stroke-linejoin="round" stroke-linecap="round"/>
<path d="M399.0,638.1L419.5,673.1L378.5,673.1Z" fill="#fff" stroke="#f00" stroke-width="3.4"/>
<path d="M484.3,628.4L504.8,663.4L463.8,663.4Z" fill="#fff" stroke="#f00" stroke-width="3.4"/>
<path d="M569.2,754.5L589.7,789.5L548.7,789.5Z" fill="#fff" stroke="#f00" stroke-width="3.4"/>
<path d="M651.6,908.1L672.1,943.1L631.1,943.1Z" fill="#fff" stroke="#f00" stroke-width="3.4"/>
<path d="M739.7,965.9L760.2,1000.9L719.2,1000.9Z" fill="#fff" stroke="#f00" stroke-width="3.4"/>
<path d="M825.7,995.7L846.2,1030.7L805.2,1030.7Z" fill="#fff" stroke="#f00" stroke-width="3.4"/>
<path d="M911.8,1008.3L932.3,1043.3L891.3,1043.3Z" fill="#fff" stroke="#f00" stroke-width="3.4"/>
<path d="M997.3,1017.2L1017.8,1052.2L976.8,1052.2Z" fill="#fff" stroke="#f00" stroke-width="3.4"/>
<path d="M1083.2,1036.3L1103.7,1071.3L1062.7,1071.3Z" fill="#fff" stroke="#f00" stroke-width="3.4"/>
<path d="M1169.0,1045.7L1189.5,1080.7L1148.5,1080.7Z" fill="#fff" stroke="#f00" stroke-width="3.4"/>
<path d="M1255.2,1026.9L1275.7,1061.9L1234.7,1061.9Z" fill="#fff" stroke="#f00" stroke-width="3.4"/>
<path d="M1341.1,1024.2L1361.6,1059.2L1320.6,1059.2Z" fill="#fff" stroke="#f00" stroke-width="3.4"/>
<path d="M1426.7,1017.2L1447.2,1052.2L1406.2,1052.2Z" fill="#fff" stroke="#f00" stroke-width="3.4"/>
<path d="M1512.7,977.4L1533.2,1012.4L1492.2,1012.4Z" fill="#fff" stroke="#f00" stroke-width="3.4"/>
<path d="M1599.7,932.2L1620.2,967.2L1579.2,967.2Z" fill="#fff" stroke="#f00" stroke-width="3.4"/>
<path d="M1683.9,819.4L1704.4,854.4L1663.4,854.4Z" fill="#fff" stroke="#f00" stroke-width="3.4"/>
<path d="M1768.5,665.9L1789.0,700.9L1748.0,700.9Z" fill="#fff" stroke="#f00" stroke-width="3.4"/>
<path d="M1853.4,637.3L1873.9,672.3L1832.9,672.3Z" fill="#fff" stroke="#f00" stroke-width="3.4"/>
<path d="M393.7,683.4 395.5,683.2 397.3,683.0 399.1,682.9 400.9,682.9 402.7,683.1 404.4,683.3 406.2,683.6 408.0,683.8 409.8,684.0 411.6,684.1 413.4,684.1 415.1,683.8 416.9,683.4 418.7,682.7 420.5,681.9 422.3,680.8 424.1,679.7 425.8,678.4 427.6,677.1 429.4,675.7 431.2,674.3 433.0,672.9 434.8,671.5 436.5,670.2 438.3,669.0 440.1,667.9 441.9,667.0 443.7,666.3 445.5,665.8 447.2,665.6 449.0,665.5 450.8,665.6 452.6,666.0 454.4,666.4 456.2,667.0 457.9,667.7 459.7,668.5 461.5,669.3 463.3,670.2 465.1,671.0 466.9,671.9 468.6,672.8 470.4,673.6 472.2,674.4 474.0,675.2 475.8,676.0 477.6,676.9 479.3,677.7 481.1,678.7 482.9,679.7 484.7,680.9 486.5,682.1 488.3,683.5 490.0,685.0 491.8,686.6 493.6,688.4 495.4,690.2 497.2,692.2 499.0,694.2 500.8,696.3 502.5,698.5 504.3,700.8 506.1,703.2 507.9,705.6 509.7,708.2 511.5,710.7 513.2,713.4 515.0,716.1 516.8,718.8 518.6,721.6 520.4,724.5 522.2,727.4 523.9,730.4 525.7,733.5 527.5,736.8 529.3,740.1 531.1,743.6 532.9,747.3 534.6,751.2 536.4,755.3 538.2,759.5 540.0,764.1 541.8,768.9 543.6,774.0 545.3,779.4 547.1,785.2 548.9,791.4 550.7,797.9 552.5,804.9 554.3,812.3 556.0,820.0 557.8,827.6 559.6,835.2 561.4,842.4 563.2,849.1 565.0,855.1 566.7,860.6 568.5,866.0 570.3,871.4 572.1,877.3 573.9,883.6 575.7,890.3 577.4,897.5 579.2,905.2 581.0,913.3 582.8,921.8 584.6,930.8 586.4,940.0 588.1,949.3 589.9,958.6 591.7,967.8 593.5,976.7 595.3,985.1 597.1,993.1 598.8,1000.5 600.6,1007.5 602.4,1014.0 604.2,1020.2 606.0,1025.9 607.8,1031.4 609.5,1036.5 611.3,1041.3 613.1,1046.0 614.9,1050.4 616.7,1054.8 618.5,1059.0 620.2,1063.2 622.0,1067.3 623.8,1071.5 625.6,1075.8 627.4,1080.2 629.2,1084.7 630.9,1089.4 632.7,1094.2 634.5,1099.1 636.3,1104.0 638.1,1109.0 639.9,1114.1 641.6,1119.1 643.4,1124.0 645.2,1128.9 647.0,1133.7 648.8,1138.4 650.6,1143.0 652.3,1147.3 654.1,1151.5 655.9,1155.6 657.7,1159.4 659.5,1163.1 661.3,1166.7 663.0,1170.1 664.8,1173.3 666.6,1176.4 668.4,1179.4 670.2,1182.2 672.0,1184.9 673.7,1187.4 675.5,1189.9 677.3,1192.2 679.1,1194.4 680.9,1196.5 682.7,1198.5 684.5,1200.4 686.2,1202.1 688.0,1203.8 689.8,1205.4 691.6,1207.0 693.4,1208.4 695.2,1209.7 696.9,1211.0 698.7,1212.2 700.5,1213.4 702.3,1214.5 704.1,1215.5 705.9,1216.5 707.6,1217.4 709.4,1218.3 711.2,1219.1 713.0,1219.9 714.8,1220.7 716.6,1221.4 718.3,1222.1 720.1,1222.8 721.9,1223.5 723.7,1224.2 725.5,1224.8 727.3,1225.5 729.0,1226.2 730.8,1226.8 732.6,1227.5 734.4,1228.2 736.2,1228.9 738.0,1229.7 739.7,1230.4 741.5,1231.2 743.3,1232.0 745.1,1232.8 746.9,1233.7 748.7,1234.5 750.4,1235.4 752.2,1236.3 754.0,1237.3 755.8,1238.2 757.6,1239.2 759.4,1240.2 761.1,1241.1 762.9,1242.1 764.7,1243.1 766.5,1244.2 768.3,1245.2 770.1,1246.2 771.8,1247.3 773.6,1248.3 775.4,1249.4 777.2,1250.4 779.0,1251.5 780.8,1252.5 782.5,1253.6 784.3,1254.7 786.1,1255.7 787.9,1256.8 789.7,1257.8 791.5,1258.9 793.2,1259.9 795.0,1260.9 796.8,1261.9 798.6,1263.0 800.4,1264.0 802.2,1265.0 803.9,1265.9 805.7,1266.9 807.5,1267.8 809.3,1268.8 811.1,1269.7 812.9,1270.6 814.6,1271.5 816.4,1272.3 818.2,1273.1 820.0,1274.0 821.8,1274.7 823.6,1275.5 825.3,1276.2 827.1,1277.0 828.9,1277.6 830.7,1278.3 832.5,1278.9 834.3,1279.6 836.0,1280.1 837.8,1280.7 839.6,1281.3 841.4,1281.8 843.2,1282.3 845.0,1282.8 846.7,1283.2 848.5,1283.7 850.3,1284.1 852.1,1284.5 853.9,1284.9 855.7,1285.3 857.5,1285.7 859.2,1286.0 861.0,1286.4 862.8,1286.7 864.6,1287.0 866.4,1287.3 868.2,1287.6 869.9,1287.9 871.7,1288.1 873.5,1288.4 875.3,1288.6 877.1,1288.9 878.9,1289.1 880.6,1289.4 882.4,1289.6 884.2,1289.8 886.0,1290.0 887.8,1290.2 889.6,1290.4 891.3,1290.6 893.1,1290.8 894.9,1291.0 896.7,1291.2 898.5,1291.4 900.3,1291.6 902.0,1291.8 903.8,1292.0 905.6,1292.2 907.4,1292.4 909.2,1292.7 911.0,1292.9 912.7,1293.1 914.5,1293.3 916.3,1293.6 918.1,1293.8 919.9,1294.0 921.7,1294.3 923.4,1294.5 925.2,1294.8 927.0,1295.1 928.8,1295.3 930.6,1295.6 932.4,1295.9 934.1,1296.2 935.9,1296.4 937.7,1296.7 939.5,1297.0 941.3,1297.3 943.1,1297.6 944.8,1297.9 946.6,1298.2 948.4,1298.6 950.2,1298.9 952.0,1299.2 953.8,1299.5 955.5,1299.8 957.3,1300.2 959.1,1300.5 960.9,1300.8 962.7,1301.2 964.5,1301.5 966.2,1301.9 968.0,1302.2 969.8,1302.6 971.6,1302.9 973.4,1303.3 975.2,1303.6 976.9,1304.0 978.7,1304.4 980.5,1304.7 982.3,1305.1 984.1,1305.5 985.9,1305.8 987.6,1306.2 989.4,1306.6 991.2,1307.0 993.0,1307.3 994.8,1307.7 996.6,1308.1 998.3,1308.5 1000.1,1308.9 1001.9,1309.2 1003.7,1309.6 1005.5,1310.0 1007.3,1310.4 1009.0,1310.8 1010.8,1311.2 1012.6,1311.5 1014.4,1311.9 1016.2,1312.3 1018.0,1312.7 1019.7,1313.1 1021.5,1313.4 1023.3,1313.8 1025.1,1314.2 1026.9,1314.6 1028.7,1315.0 1030.4,1315.3 1032.2,1315.7 1034.0,1316.1 1035.8,1316.4 1037.6,1316.8 1039.4,1317.1 1041.2,1317.5 1042.9,1317.9 1044.7,1318.2 1046.5,1318.5 1048.3,1318.9 1050.1,1319.2 1051.9,1319.6 1053.6,1319.9 1055.4,1320.2 1057.2,1320.5 1059.0,1320.8 1060.8,1321.1 1062.6,1321.5 1064.3,1321.8 1066.1,1322.0 1067.9,1322.3 1069.7,1322.6 1071.5,1322.9 1073.3,1323.2 1075.0,1323.4 1076.8,1323.7 1078.6,1323.9 1080.4,1324.2 1082.2,1324.4 1084.0,1324.6 1085.7,1324.8 1087.5,1325.0 1089.3,1325.2 1091.1,1325.4 1092.9,1325.6 1094.7,1325.8 1096.4,1326.0 1098.2,1326.1 1100.0,1326.3 1101.8,1326.4 1103.6,1326.5 1105.4,1326.6 1107.1,1326.7 1108.9,1326.8 1110.7,1326.9 1112.5,1327.0 1114.3,1327.0 1116.1,1327.1 1117.8,1327.1 1119.6,1327.1 1121.4,1327.1 1123.2,1327.1 1125.0,1327.1 1126.8,1327.1 1128.5,1327.0 1130.3,1327.0 1132.1,1326.9 1133.9,1326.8 1135.7,1326.7 1137.5,1326.6 1139.2,1326.4 1141.0,1326.3 1142.8,1326.1 1144.6,1325.9 1146.4,1325.7 1148.2,1325.5 1149.9,1325.2 1151.7,1325.0 1153.5,1324.7 1155.3,1324.4 1157.1,1324.1 1158.9,1323.7 1160.6,1323.4 1162.4,1323.0 1164.2,1322.6 1166.0,1322.2 1167.8,1321.8 1169.6,1321.3 1171.3,1320.8 1173.1,1320.3 1174.9,1319.8 1176.7,1319.3 1178.5,1318.7 1180.3,1318.2 1182.0,1317.6 1183.8,1317.0 1185.6,1316.4 1187.4,1315.7 1189.2,1315.1 1191.0,1314.5 1192.7,1313.8 1194.5,1313.1 1196.3,1312.4 1198.1,1311.7 1199.9,1311.1 1201.7,1310.3 1203.4,1309.6 1205.2,1308.9 1207.0,1308.2 1208.8,1307.5 1210.6,1306.8 1212.4,1306.0 1214.2,1305.3 1215.9,1304.6 1217.7,1303.9 1219.5,1303.2 1221.3,1302.4 1223.1,1301.7 1224.9,1301.0 1226.6,1300.3 1228.4,1299.6 1230.2,1298.9 1232.0,1298.2 1233.8,1297.6 1235.6,1296.9 1237.3,1296.3 1239.1,1295.6 1240.9,1295.0 1242.7,1294.4 1244.5,1293.8 1246.3,1293.2 1248.0,1292.6 1249.8,1292.1 1251.6,1291.5 1253.4,1291.0 1255.2,1290.5 1257.0,1290.1 1258.7,1289.6 1260.5,1289.2 1262.3,1288.8 1264.1,1288.4 1265.9,1288.0 1267.7,1287.6 1269.4,1287.3 1271.2,1286.9 1273.0,1286.6 1274.8,1286.3 1276.6,1286.0 1278.4,1285.7 1280.1,1285.5 1281.9,1285.2 1283.7,1285.0 1285.5,1284.8 1287.3,1284.5 1289.1,1284.3 1290.8,1284.1 1292.6,1283.9 1294.4,1283.7 1296.2,1283.5 1298.0,1283.4 1299.8,1283.2 1301.5,1283.0 1303.3,1282.9 1305.1,1282.7 1306.9,1282.5 1308.7,1282.4 1310.5,1282.2 1312.2,1282.1 1314.0,1281.9 1315.8,1281.7 1317.6,1281.6 1319.4,1281.4 1321.2,1281.3 1322.9,1281.1 1324.7,1280.9 1326.5,1280.7 1328.3,1280.5 1330.1,1280.4 1331.9,1280.2 1333.6,1280.0 1335.4,1279.7 1337.2,1279.5 1339.0,1279.3 1340.8,1279.0 1342.6,1278.8 1344.3,1278.5 1346.1,1278.2 1347.9,1277.9 1349.7,1277.6 1351.5,1277.3 1353.3,1277.0 1355.0,1276.7 1356.8,1276.3 1358.6,1276.0 1360.4,1275.6 1362.2,1275.2 1364.0,1274.8 1365.7,1274.4 1367.5,1274.0 1369.3,1273.6 1371.1,1273.2 1372.9,1272.7 1374.7,1272.3 1376.4,1271.8 1378.2,1271.3 1380.0,1270.8 1381.8,1270.3 1383.6,1269.8 1385.4,1269.3 1387.1,1268.8 1388.9,1268.3 1390.7,1267.7 1392.5,1267.1 1394.3,1266.6 1396.1,1266.0 1397.9,1265.4 1399.6,1264.8 1401.4,1264.2 1403.2,1263.6 1405.0,1263.0 1406.8,1262.3 1408.6,1261.7 1410.3,1261.0 1412.1,1260.4 1413.9,1259.7 1415.7,1259.0 1417.5,1258.3 1419.3,1257.6 1421.0,1256.9 1422.8,1256.2 1424.6,1255.5 1426.4,1254.7 1428.2,1254.0 1430.0,1253.2 1431.7,1252.5 1433.5,1251.7 1435.3,1250.9 1437.1,1250.1 1438.9,1249.3 1440.7,1248.5 1442.4,1247.7 1444.2,1246.9 1446.0,1246.0 1447.8,1245.2 1449.6,1244.3 1451.4,1243.4 1453.1,1242.5 1454.9,1241.6 1456.7,1240.7 1458.5,1239.8 1460.3,1238.9 1462.1,1238.0 1463.8,1237.0 1465.6,1236.0 1467.4,1235.1 1469.2,1234.1 1471.0,1233.1 1472.8,1232.1 1474.5,1231.0 1476.3,1230.0 1478.1,1228.9 1479.9,1227.9 1481.7,1226.8 1483.5,1225.7 1485.2,1224.6 1487.0,1223.4 1488.8,1222.3 1490.6,1221.2 1492.4,1220.0 1494.2,1218.8 1495.9,1217.6 1497.7,1216.4 1499.5,1215.2 1501.3,1213.9 1503.1,1212.7 1504.9,1211.4 1506.6,1210.1 1508.4,1208.8 1510.2,1207.5 1512.0,1206.1 1513.8,1204.8 1515.6,1203.4 1517.3,1202.0 1519.1,1200.6 1520.9,1199.2 1522.7,1197.8 1524.5,1196.3 1526.3,1194.8 1528.0,1193.3 1529.8,1191.8 1531.6,1190.3 1533.4,1188.8 1535.2,1187.2 1537.0,1185.6 1538.7,1184.1 1540.5,1182.4 1542.3,1180.8 1544.1,1179.2 1545.9,1177.5 1547.7,1175.8 1549.4,1174.2 1551.2,1172.4 1553.0,1170.7 1554.8,1169.0 1556.6,1167.2 1558.4,1165.4 1560.1,1163.6 1561.9,1161.8 1563.7,1160.0 1565.5,1158.2 1567.3,1156.3 1569.1,1154.4 1570.9,1152.5 1572.6,1150.6 1574.4,1148.7 1576.2,1146.7 1578.0,1144.7 1579.8,1142.8 1581.6,1140.8 1583.3,1138.7 1585.1,1136.7 1586.9,1134.7 1588.7,1132.6 1590.5,1130.5 1592.3,1128.4 1594.0,1126.3 1595.8,1124.1 1597.6,1122.0 1599.4,1119.8 1601.2,1117.6 1603.0,1115.4 1604.7,1113.2 1606.5,1110.9 1608.3,1108.6 1610.1,1106.4 1611.9,1104.0 1613.7,1101.7 1615.4,1099.3 1617.2,1096.9 1619.0,1094.5 1620.8,1092.0 1622.6,1089.5 1624.4,1087.0 1626.1,1084.4 1627.9,1081.7 1629.7,1079.1 1631.5,1076.4 1633.3,1073.6 1635.1,1070.8 1636.8,1068.0 1638.6,1065.1 1640.4,1062.1 1642.2,1059.1 1644.0,1056.1 1645.8,1052.9 1647.5,1049.7 1649.3,1046.4 1651.1,1043.0 1652.9,1039.6 1654.7,1036.0 1656.5,1032.4 1658.2,1028.7 1660.0,1024.8 1661.8,1020.8 1663.6,1016.7 1665.4,1012.4 1667.2,1007.9 1668.9,1003.3 1670.7,998.4 1672.5,993.3 1674.3,987.9 1676.1,982.3 1677.9,976.5 1679.6,970.4 1681.4,964.2 1683.2,957.9 1685.0,951.6 1686.8,945.4 1688.6,939.1 1690.3,932.6 1692.1,925.5 1693.9,917.8 1695.7,909.7 1697.5,901.1 1699.3,892.5 1701.0,883.9 1702.8,875.6 1704.6,867.5 1706.4,859.8 1708.2,852.4 1710.0,845.4 1711.7,838.8 1713.5,832.6 1715.3,826.6 1717.1,820.7 1718.9,814.9 1720.7,809.0 1722.4,802.9 1724.2,796.7 1726.0,790.5 1727.8,784.4 1729.6,778.3 1731.4,772.4 1733.1,766.7 1734.9,761.3 1736.7,756.2 1738.5,751.5 1740.3,747.2 1742.1,743.5 1743.8,740.3 1745.6,737.5 1747.4,735.0 1749.2,732.7 1751.0,730.6 1752.8,728.6 1754.6,726.6 1756.3,724.5 1758.1,722.2 1759.9,719.7 1761.7,717.1 1763.5,714.4 1765.3,711.6 1767.0,708.8 1768.8,706.2 1770.6,703.6 1772.4,701.1 1774.2,698.8 1776.0,696.6 1777.7,694.5 1779.5,692.6 1781.3,690.8 1783.1,689.1 1784.9,687.6 1786.7,686.3 1788.4,685.1 1790.2,684.1 1792.0,683.2 1793.8,682.5 1795.6,681.8 1797.4,681.3 1799.1,680.9 1800.9,680.5 1802.7,680.3 1804.5,680.1 1806.3,679.9 1808.1,679.8 1809.8,679.8 1811.6,679.7 1813.4,679.7 1815.2,679.7 1817.0,679.7 1818.8,679.7 1820.5,679.7 1822.3,679.7 1824.1,679.7 1825.9,679.6 1827.7,679.6 1829.5,679.4 1831.2,679.3 1833.0,679.1 1834.8,678.8 1836.6,678.5 1838.4,678.1 1840.2,677.6 1841.9,677.1 1843.7,676.6 1845.5,676.1 1847.3,675.6 1849.1,675.2 1850.9,674.8 1852.6,674.4 1854.4,674.1 1856.2,673.9 1858.0,673.8 1859.8,673.7 1861.6,673.7 1863.3,673.8 1865.1,673.9 1866.9,674.0 1868.7,674.2 1870.5,674.5 1872.3,674.7 1874.0,675.0 1875.8,675.3 1877.6,675.7 1879.4,676.0 1881.2,676.4" fill="none" stroke="#00f" stroke-width="5" stroke-linejoin="round" stroke-linecap="round"/>
<circle cx="399.8" cy="682.9" r="16.8" fill="#fff" stroke="#00f" stroke-width="3.2"/>
<circle cx="486.8" cy="682.4" r="16.8" fill="#fff" stroke="#00f" stroke-width="3.2"/>
<circle cx="570.7" cy="872.6" r="16.8" fill="#fff" stroke="#00f" stroke-width="3.2"/>
<circle cx="650.9" cy="1143.8" r="16.8" fill="#fff" stroke="#00f" stroke-width="3.2"/>
<circle cx="738.0" cy="1229.7" r="16.8" fill="#fff" stroke="#00f" stroke-width="3.2"/>
<circle cx="824.6" cy="1276.0" r="16.8" fill="#fff" stroke="#00f" stroke-width="3.2"/>
<circle cx="911.7" cy="1293.0" r="16.8" fill="#fff" stroke="#00f" stroke-width="3.2"/>
<circle cx="998.0" cy="1308.4" r="16.8" fill="#fff" stroke="#00f" stroke-width="3.2"/>
<circle cx="1084.0" cy="1324.6" r="16.8" fill="#fff" stroke="#00f" stroke-width="3.2"/>
<circle cx="1169.9" cy="1321.2" r="16.8" fill="#fff" stroke="#00f" stroke-width="3.2"/>
<circle cx="1255.9" cy="1290.3" r="16.8" fill="#fff" stroke="#00f" stroke-width="3.2"/>
<circle cx="1342.2" cy="1278.8" r="16.8" fill="#fff" stroke="#00f" stroke-width="3.2"/>
<circle cx="1428.2" cy="1254.0" r="16.8" fill="#fff" stroke="#00f" stroke-width="3.2"/>
<circle cx="1513.4" cy="1205.1" r="16.8" fill="#fff" stroke="#00f" stroke-width="3.2"/>
<circle cx="1601.5" cy="1117.2" r="16.8" fill="#fff" stroke="#00f" stroke-width="3.2"/>
<circle cx="1686.4" cy="946.6" r="16.8" fill="#fff" stroke="#00f" stroke-width="3.2"/>
<circle cx="1767.7" cy="707.8" r="16.8" fill="#fff" stroke="#00f" stroke-width="3.2"/>
<circle cx="1853.4" cy="674.3" r="16.8" fill="#fff" stroke="#00f" stroke-width="3.2"/>
<path d="M393.7,612.8 395.5,612.8 397.3,612.8 399.1,612.8 400.9,612.8 402.7,612.8 404.4,612.8 406.2,612.8 408.0,612.8 409.8,612.8 411.6,612.8 413.4,612.8 415.1,612.8 416.9,612.8 418.7,612.8 420.5,612.8 422.3,612.8 424.1,612.8 425.8,612.8 427.6,612.8 429.4,612.8 431.2,612.8 433.0,612.8 434.8,612.8 436.5,612.8 438.3,612.8 440.1,612.8 441.9,612.8 443.7,612.8 445.5,612.8 447.2,612.8 449.0,612.8 450.8,612.8 452.6,612.8 454.4,612.8 456.2,612.8 457.9,612.8 459.7,612.8 461.5,612.8 463.3,612.8 465.1,612.8 466.9,612.8 468.6,612.8 470.4,612.8 472.2,612.8 474.0,612.8 475.8,612.8 477.6,612.8 479.3,612.8 481.1,612.8 482.9,612.8 484.7,612.8 486.5,612.8 488.3,612.8 490.0,612.8 491.8,612.8 493.6,612.8 495.4,612.8 497.2,612.8 499.0,612.7 500.8,612.7 502.5,612.7 504.3,612.6 506.1,612.6 507.9,612.6 509.7,612.6 511.5,612.6 513.2,612.7 515.0,612.7 516.8,612.8 518.6,612.9 520.4,613.1 522.2,613.2 523.9,613.4 525.7,613.5 527.5,613.6 529.3,613.6 531.1,613.6 532.9,613.5 534.6,613.3 536.4,613.1 538.2,612.7 540.0,612.3 541.8,611.7 543.6,611.2 545.3,610.6 547.1,610.0 548.9,609.5 550.7,609.1 552.5,608.8 554.3,608.6 556.0,608.6 557.8,608.9 559.6,609.4 561.4,610.1 563.2,611.0 565.0,612.2 566.7,613.6 568.5,615.1 570.3,616.9 572.1,618.8 573.9,620.9 575.7,623.2 577.4,625.6 579.2,628.2 581.0,630.9 582.8,633.7 584.6,636.7 586.4,639.8 588.1,643.2 589.9,646.8 591.7,650.6 593.5,654.7 595.3,659.1 597.1,663.8 598.8,668.9 600.6,674.1 602.4,679.2 604.2,684.2 606.0,688.9 607.8,693.2 609.5,697.3 611.3,701.2 613.1,705.0 614.9,708.8 616.7,712.7 618.5,716.6 620.2,720.6 622.0,724.6 623.8,728.5 625.6,732.4 627.4,736.2 629.2,739.9 630.9,743.4 632.7,746.8 634.5,750.0 636.3,753.1 638.1,756.0 639.9,758.9 641.6,761.6 643.4,764.3 645.2,766.9 647.0,769.5 648.8,772.1 650.6,774.6 652.3,777.0 654.1,779.5 655.9,781.9 657.7,784.2 659.5,786.6 661.3,788.8 663.0,791.0 664.8,793.2 666.6,795.3 668.4,797.4 670.2,799.4 672.0,801.3 673.7,803.2 675.5,805.1 677.3,806.9 679.1,808.7 680.9,810.4 682.7,812.0 684.5,813.6 686.2,815.2 688.0,816.8 689.8,818.2 691.6,819.7 693.4,821.1 695.2,822.4 696.9,823.8 698.7,825.0 700.5,826.3 702.3,827.5 704.1,828.6 705.9,829.8 707.6,830.8 709.4,831.9 711.2,832.9 713.0,833.9 714.8,834.8 716.6,835.8 718.3,836.6 720.1,837.5 721.9,838.3 723.7,839.1 725.5,839.9 727.3,840.6 729.0,841.3 730.8,842.0 732.6,842.6 734.4,843.3 736.2,843.9 738.0,844.5 739.7,845.0 741.5,845.5 743.3,846.1 745.1,846.5 746.9,847.0 748.7,847.5 750.4,847.9 752.2,848.3 754.0,848.7 755.8,849.1 757.6,849.4 759.4,849.8 761.1,850.1 762.9,850.4 764.7,850.7 766.5,851.0 768.3,851.3 770.1,851.6 771.8,851.8 773.6,852.1 775.4,852.4 777.2,852.6 779.0,852.8 780.8,853.1 782.5,853.3 784.3,853.5 786.1,853.7 787.9,854.0 789.7,854.2 791.5,854.4 793.2,854.6 795.0,854.8 796.8,855.1 798.6,855.3 800.4,855.5 802.2,855.8 803.9,856.0 805.7,856.3 807.5,856.5 809.3,856.8 811.1,857.1 812.9,857.4 814.6,857.7 816.4,858.0 818.2,858.3 820.0,858.7 821.8,859.0 823.6,859.4 825.3,859.8 827.1,860.2 828.9,860.6 830.7,861.0 832.5,861.5 834.3,862.0 836.0,862.5 837.8,863.0 839.6,863.5 841.4,864.1 843.2,864.7 845.0,865.3 846.7,865.9 848.5,866.5 850.3,867.2 852.1,867.9 853.9,868.5 855.7,869.2 857.5,869.9 859.2,870.6 861.0,871.4 862.8,872.1 864.6,872.8 866.4,873.6 868.2,874.3 869.9,875.1 871.7,875.9 873.5,876.6 875.3,877.4 877.1,878.2 878.9,879.0 880.6,879.7 882.4,880.5 884.2,881.3 886.0,882.1 887.8,882.8 889.6,883.6 891.3,884.3 893.1,885.1 894.9,885.8 896.7,886.6 898.5,887.3 900.3,888.0 902.0,888.7 903.8,889.4 905.6,890.1 907.4,890.7 909.2,891.4 911.0,892.0 912.7,892.7 914.5,893.3 916.3,893.8 918.1,894.4 919.9,895.0 921.7,895.5 923.4,896.0 925.2,896.5 927.0,896.9 928.8,897.4 930.6,897.8 932.4,898.2 934.1,898.6 935.9,898.9 937.7,899.3 939.5,899.6 941.3,899.9 943.1,900.2 944.8,900.5 946.6,900.8 948.4,901.0 950.2,901.3 952.0,901.5 953.8,901.7 955.5,901.9 957.3,902.1 959.1,902.2 960.9,902.4 962.7,902.5 964.5,902.7 966.2,902.8 968.0,902.9 969.8,903.0 971.6,903.1 973.4,903.2 975.2,903.3 976.9,903.4 978.7,903.5 980.5,903.5 982.3,903.6 984.1,903.7 985.9,903.7 987.6,903.8 989.4,903.8 991.2,903.9 993.0,903.9 994.8,903.9 996.6,904.0 998.3,904.0 1000.1,904.0 1001.9,904.1 1003.7,904.1 1005.5,904.2 1007.3,904.2 1009.0,904.2 1010.8,904.3 1012.6,904.3 1014.4,904.4 1016.2,904.4 1018.0,904.5 1019.7,904.6 1021.5,904.6 1023.3,904.7 1025.1,904.7 1026.9,904.8 1028.7,904.9 1030.4,904.9 1032.2,905.0 1034.0,905.1 1035.8,905.1 1037.6,905.2 1039.4,905.3 1041.2,905.4 1042.9,905.4 1044.7,905.5 1046.5,905.6 1048.3,905.7 1050.1,905.7 1051.9,905.8 1053.6,905.9 1055.4,906.0 1057.2,906.0 1059.0,906.1 1060.8,906.2 1062.6,906.3 1064.3,906.3 1066.1,906.4 1067.9,906.5 1069.7,906.5 1071.5,906.6 1073.3,906.7 1075.0,906.8 1076.8,906.8 1078.6,906.9 1080.4,906.9 1082.2,907.0 1084.0,907.1 1085.7,907.1 1087.5,907.2 1089.3,907.2 1091.1,907.3 1092.9,907.3 1094.7,907.4 1096.4,907.4 1098.2,907.5 1100.0,907.5 1101.8,907.5 1103.6,907.6 1105.4,907.6 1107.1,907.6 1108.9,907.7 1110.7,907.7 1112.5,907.7 1114.3,907.7 1116.1,907.7 1117.8,907.7 1119.6,907.8 1121.4,907.8 1123.2,907.8 1125.0,907.8 1126.8,907.7 1128.5,907.7 1130.3,907.7 1132.1,907.7 1133.9,907.7 1135.7,907.7 1137.5,907.6 1139.2,907.6 1141.0,907.5 1142.8,907.5 1144.6,907.5 1146.4,907.4 1148.2,907.3 1149.9,907.3 1151.7,907.2 1153.5,907.2 1155.3,907.1 1157.1,907.0 1158.9,906.9 1160.6,906.8 1162.4,906.7 1164.2,906.6 1166.0,906.5 1167.8,906.4 1169.6,906.3 1171.3,906.2 1173.1,906.1 1174.9,905.9 1176.7,905.8 1178.5,905.6 1180.3,905.5 1182.0,905.3 1183.8,905.2 1185.6,905.0 1187.4,904.9 1189.2,904.7 1191.0,904.5 1192.7,904.3 1194.5,904.1 1196.3,904.0 1198.1,903.8 1199.9,903.6 1201.7,903.4 1203.4,903.2 1205.2,903.0 1207.0,902.8 1208.8,902.6 1210.6,902.4 1212.4,902.2 1214.2,902.0 1215.9,901.8 1217.7,901.6 1219.5,901.4 1221.3,901.2 1223.1,901.0 1224.9,900.8 1226.6,900.6 1228.4,900.5 1230.2,900.3 1232.0,900.1 1233.8,899.9 1235.6,899.8 1237.3,899.6 1239.1,899.5 1240.9,899.3 1242.7,899.2 1244.5,899.0 1246.3,898.9 1248.0,898.8 1249.8,898.6 1251.6,898.5 1253.4,898.4 1255.2,898.3 1257.0,898.2 1258.7,898.2 1260.5,898.1 1262.3,898.0 1264.1,898.0 1265.9,897.9 1267.7,897.9 1269.4,897.9 1271.2,897.9 1273.0,897.9 1274.8,897.9 1276.6,897.9 1278.4,897.9 1280.1,898.0 1281.9,898.0 1283.7,898.0 1285.5,898.1 1287.3,898.1 1289.1,898.1 1290.8,898.2 1292.6,898.2 1294.4,898.3 1296.2,898.3 1298.0,898.4 1299.8,898.4 1301.5,898.5 1303.3,898.5 1305.1,898.5 1306.9,898.5 1308.7,898.6 1310.5,898.6 1312.2,898.6 1314.0,898.6 1315.8,898.6 1317.6,898.6 1319.4,898.5 1321.2,898.5 1322.9,898.5 1324.7,898.4 1326.5,898.3 1328.3,898.3 1330.1,898.2 1331.9,898.0 1333.6,897.9 1335.4,897.8 1337.2,897.6 1339.0,897.4 1340.8,897.2 1342.6,897.0 1344.3,896.8 1346.1,896.5 1347.9,896.3 1349.7,896.0 1351.5,895.7 1353.3,895.3 1355.0,895.0 1356.8,894.6 1358.6,894.2 1360.4,893.7 1362.2,893.3 1364.0,892.8 1365.7,892.3 1367.5,891.8 1369.3,891.3 1371.1,890.8 1372.9,890.2 1374.7,889.7 1376.4,889.1 1378.2,888.5 1380.0,887.9 1381.8,887.3 1383.6,886.6 1385.4,886.0 1387.1,885.3 1388.9,884.7 1390.7,884.0 1392.5,883.3 1394.3,882.6 1396.1,881.9 1397.9,881.2 1399.6,880.5 1401.4,879.8 1403.2,879.0 1405.0,878.3 1406.8,877.6 1408.6,876.9 1410.3,876.1 1412.1,875.4 1413.9,874.6 1415.7,873.9 1417.5,873.2 1419.3,872.4 1421.0,871.7 1422.8,871.0 1424.6,870.2 1426.4,869.5 1428.2,868.8 1430.0,868.1 1431.7,867.4 1433.5,866.6 1435.3,865.9 1437.1,865.3 1438.9,864.6 1440.7,863.9 1442.4,863.2 1444.2,862.6 1446.0,861.9 1447.8,861.3 1449.6,860.6 1451.4,860.0 1453.1,859.4 1454.9,858.8 1456.7,858.1 1458.5,857.5 1460.3,856.9 1462.1,856.3 1463.8,855.7 1465.6,855.1 1467.4,854.6 1469.2,854.0 1471.0,853.4 1472.8,852.8 1474.5,852.2 1476.3,851.7 1478.1,851.1 1479.9,850.5 1481.7,849.9 1483.5,849.4 1485.2,848.8 1487.0,848.2 1488.8,847.7 1490.6,847.1 1492.4,846.5 1494.2,846.0 1495.9,845.4 1497.7,844.8 1499.5,844.2 1501.3,843.7 1503.1,843.1 1504.9,842.5 1506.6,841.9 1508.4,841.3 1510.2,840.7 1512.0,840.1 1513.8,839.5 1515.6,838.9 1517.3,838.3 1519.1,837.7 1520.9,837.1 1522.7,836.5 1524.5,835.8 1526.3,835.2 1528.0,834.5 1529.8,833.9 1531.6,833.2 1533.4,832.5 1535.2,831.9 1537.0,831.2 1538.7,830.5 1540.5,829.7 1542.3,829.0 1544.1,828.2 1545.9,827.5 1547.7,826.7 1549.4,825.9 1551.2,825.1 1553.0,824.3 1554.8,823.4 1556.6,822.5 1558.4,821.7 1560.1,820.7 1561.9,819.8 1563.7,818.9 1565.5,817.9 1567.3,816.9 1569.1,815.8 1570.9,814.8 1572.6,813.7 1574.4,812.6 1576.2,811.5 1578.0,810.3 1579.8,809.1 1581.6,807.9 1583.3,806.7 1585.1,805.4 1586.9,804.1 1588.7,802.7 1590.5,801.3 1592.3,799.9 1594.0,798.5 1595.8,797.0 1597.6,795.4 1599.4,793.9 1601.2,792.3 1603.0,790.6 1604.7,789.0 1606.5,787.2 1608.3,785.5 1610.1,783.7 1611.9,781.8 1613.7,780.0 1615.4,778.1 1617.2,776.1 1619.0,774.2 1620.8,772.2 1622.6,770.2 1624.4,768.2 1626.1,766.2 1627.9,764.2 1629.7,762.2 1631.5,760.1 1633.3,758.1 1635.1,756.0 1636.8,753.9 1638.6,751.8 1640.4,749.6 1642.2,747.4 1644.0,745.2 1645.8,742.9 1647.5,740.6 1649.3,738.3 1651.1,735.9 1652.9,733.4 1654.7,730.9 1656.5,728.2 1658.2,725.5 1660.0,722.7 1661.8,719.8 1663.6,716.8 1665.4,713.7 1667.2,710.4 1668.9,707.0 1670.7,703.6 1672.5,700.0 1674.3,696.4 1676.1,692.7 1677.9,688.9 1679.6,685.1 1681.4,681.2 1683.2,677.2 1685.0,673.0 1686.8,668.7 1688.6,664.0 1690.3,659.2 1692.1,654.0 1693.9,648.4 1695.7,642.5 1697.5,636.4 1699.3,630.4 1701.0,624.9 1702.8,620.0 1704.6,615.9 1706.4,612.8 1708.2,610.4 1710.0,608.6 1711.7,607.4 1713.5,606.7 1715.3,606.4 1717.1,606.4 1718.9,606.8 1720.7,607.3 1722.4,608.1 1724.2,609.0 1726.0,609.9 1727.8,610.8 1729.6,611.7 1731.4,612.4 1733.1,613.1 1734.9,613.7 1736.7,614.1 1738.5,614.5 1740.3,614.9 1742.1,615.1 1743.8,615.3 1745.6,615.4 1747.4,615.5 1749.2,615.5 1751.0,615.5 1752.8,615.4 1754.6,615.3 1756.3,615.1 1758.1,615.0 1759.9,614.8 1761.7,614.6 1763.5,614.3 1765.3,614.1 1767.0,613.9 1768.8,613.7 1770.6,613.5 1772.4,613.3 1774.2,613.1 1776.0,612.9 1777.7,612.8 1779.5,612.7 1781.3,612.7 1783.1,612.7 1784.9,612.7 1786.7,612.7 1788.4,612.7 1790.2,612.7 1792.0,612.8 1793.8,612.8 1795.6,612.8 1797.4,612.8 1799.1,612.8 1800.9,612.8 1802.7,612.8 1804.5,612.8 1806.3,612.8 1808.1,612.8 1809.8,612.8 1811.6,612.8 1813.4,612.8 1815.2,612.8 1817.0,612.8 1818.8,612.8 1820.5,612.8 1822.3,612.8 1824.1,612.8 1825.9,612.8 1827.7,612.8 1829.5,612.8 1831.2,612.8 1833.0,612.8 1834.8,612.8 1836.6,612.8 1838.4,612.8 1840.2,612.8 1841.9,612.8 1843.7,612.8 1845.5,612.8 1847.3,612.8 1849.1,612.8 1850.9,612.8 1852.6,612.8 1854.4,612.8 1856.2,612.8 1858.0,612.8 1859.8,612.8 1861.6,612.8 1863.3,612.8 1865.1,612.8 1866.9,612.8 1868.7,612.8 1870.5,612.8 1872.3,612.8 1874.0,612.8 1875.8,612.8 1877.6,612.8 1879.4,612.8 1881.2,612.8" fill="none" stroke="#000" stroke-width="5" stroke-linejoin="round" stroke-linecap="round"/>
<rect x="393.0" y="596.1" width="33.5" height="33.5" rx="2.5" fill="#000"/>
<rect x="478.6" y="596.1" width="33.5" height="33.5" rx="2.5" fill="#000"/>
<rect x="563.9" y="613.6" width="33.5" height="33.5" rx="2.5" fill="#000"/>
<rect x="646.7" y="774.7" width="33.5" height="33.5" rx="2.5" fill="#000"/>
<rect x="733.0" y="831.0" width="33.5" height="33.5" rx="2.5" fill="#000"/>
<rect x="818.9" y="845.6" width="33.5" height="33.5" rx="2.5" fill="#000"/>
<rect x="905.3" y="878.8" width="33.5" height="33.5" rx="2.5" fill="#000"/>
<rect x="991.2" y="887.5" width="33.5" height="33.5" rx="2.5" fill="#000"/>
<rect x="1077.2" y="890.6" width="33.5" height="33.5" rx="2.5" fill="#000"/>
<rect x="1163.2" y="888.8" width="33.5" height="33.5" rx="2.5" fill="#000"/>
<rect x="1249.1" y="881.2" width="33.5" height="33.5" rx="2.5" fill="#000"/>
<rect x="1335.1" y="878.8" width="33.5" height="33.5" rx="2.5" fill="#000"/>
<rect x="1421.1" y="848.2" width="33.5" height="33.5" rx="2.5" fill="#000"/>
<rect x="1506.7" y="819.5" width="33.5" height="33.5" rx="2.5" fill="#000"/>
<rect x="1592.6" y="767.7" width="33.5" height="33.5" rx="2.5" fill="#000"/>
<rect x="1677.2" y="631.6" width="33.5" height="33.5" rx="2.5" fill="#000"/>
<rect x="1761.3" y="596.1" width="33.5" height="33.5" rx="2.5" fill="#000"/>
<rect x="1847.3" y="596.1" width="33.5" height="33.5" rx="2.5" fill="#000"/>
<path d="M393.7,612.8 395.5,612.8 397.3,612.8 399.1,612.8 400.9,612.8 402.7,612.8 404.4,612.8 406.2,612.8 408.0,612.8 409.8,612.8 411.6,612.8 413.4,612.8 415.1,612.8 416.9,612.8 418.7,612.8 420.5,612.8 422.3,612.8 424.1,612.8 425.8,612.8 427.6,612.8 429.4,612.8 431.2,612.8 433.0,612.8 434.8,612.8 436.5,612.8 438.3,612.8 440.1,612.8 441.9,612.8 443.7,612.8 445.5,612.8 447.2,612.8 449.0,612.8 450.8,612.8 452.6,612.8 454.4,612.8 456.2,612.8 457.9,612.8 459.7,612.8 461.5,612.8 463.3,612.8 465.1,612.8 466.9,612.8 468.6,612.8 470.4,612.8 472.2,612.8 474.0,612.8 475.8,612.8 477.6,612.8 479.3,612.8 481.1,612.8 482.9,612.8 484.7,612.9 486.5,612.9 488.3,612.9 490.0,612.9 491.8,612.9 493.6,612.8 495.4,612.8 497.2,612.8 499.0,612.7 500.8,612.6 502.5,612.6 504.3,612.5 506.1,612.5 507.9,612.5 509.7,612.5 511.5,612.5 513.2,612.6 515.0,612.7 516.8,612.8 518.6,613.0 520.4,613.2 522.2,613.4 523.9,613.6 525.7,613.8 527.5,613.9 529.3,613.9 531.1,613.9 532.9,613.7 534.6,613.5 536.4,613.0 538.2,612.4 540.0,611.7 541.8,610.8 543.6,609.9 545.3,608.9 547.1,607.8 548.9,606.8 550.7,605.9 552.5,605.1 554.3,604.3 556.0,603.8 557.8,603.5 559.6,603.4 561.4,603.6 563.2,604.3 565.0,605.6 566.7,607.8 568.5,610.9 570.3,615.0 572.1,620.5 573.9,627.2 575.7,635.1 577.4,643.5 579.2,651.8 581.0,659.7 582.8,667.5 584.6,675.9 586.4,685.4 588.1,696.5 589.9,709.2 591.7,722.9 593.5,736.9 595.3,750.4 597.1,762.9 598.8,774.4 600.6,785.0 602.4,794.7 604.2,803.5 606.0,811.6 607.8,819.0 609.5,825.8 611.3,832.0 613.1,837.8 614.9,843.2 616.7,848.4 618.5,853.2 620.2,858.0 622.0,862.5 623.8,866.8 625.6,870.9 627.4,874.8 629.2,878.4 630.9,881.9 632.7,885.1 634.5,888.1 636.3,890.8 638.1,893.3 639.9,895.7 641.6,897.8 643.4,899.8 645.2,901.7 647.0,903.4 648.8,905.1 650.6,906.7 652.3,908.2 654.1,909.7 655.9,911.2 657.7,912.7 659.5,914.2 661.3,915.8 663.0,917.4 664.8,919.0 666.6,920.7 668.4,922.5 670.2,924.2 672.0,926.0 673.7,927.8 675.5,929.7 677.3,931.6 679.1,933.5 680.9,935.4 682.7,937.3 684.5,939.3 686.2,941.3 688.0,943.3 689.8,945.3 691.6,947.3 693.4,949.3 695.2,951.4 696.9,953.4 698.7,955.4 700.5,957.4 702.3,959.5 704.1,961.5 705.9,963.5 707.6,965.5 709.4,967.5 711.2,969.5 713.0,971.5 714.8,973.4 716.6,975.4 718.3,977.3 720.1,979.2 721.9,981.1 723.7,982.9 725.5,984.7 727.3,986.5 729.0,988.2 730.8,989.9 732.6,991.6 734.4,993.2 736.2,994.8 738.0,996.4 739.7,997.9 741.5,999.3 743.3,1000.7 745.1,1002.1 746.9,1003.4 748.7,1004.6 750.4,1005.8 752.2,1006.9 754.0,1008.0 755.8,1009.1 757.6,1010.1 759.4,1011.1 761.1,1012.0 762.9,1012.9 764.7,1013.8 766.5,1014.6 768.3,1015.4 770.1,1016.1 771.8,1016.8 773.6,1017.5 775.4,1018.2 777.2,1018.8 779.0,1019.5 780.8,1020.1 782.5,1020.6 784.3,1021.2 786.1,1021.7 787.9,1022.3 789.7,1022.8 791.5,1023.3 793.2,1023.8 795.0,1024.2 796.8,1024.7 798.6,1025.2 800.4,1025.6 802.2,1026.1 803.9,1026.6 805.7,1027.0 807.5,1027.5 809.3,1028.0 811.1,1028.5 812.9,1028.9 814.6,1029.4 816.4,1030.0 818.2,1030.5 820.0,1031.0 821.8,1031.6 823.6,1032.1 825.3,1032.7 827.1,1033.3 828.9,1034.0 830.7,1034.6 832.5,1035.3 834.3,1036.0 836.0,1036.8 837.8,1037.5 839.6,1038.3 841.4,1039.1 843.2,1039.9 845.0,1040.8 846.7,1041.6 848.5,1042.5 850.3,1043.4 852.1,1044.3 853.9,1045.2 855.7,1046.2 857.5,1047.1 859.2,1048.1 861.0,1049.0 862.8,1050.0 864.6,1051.0 866.4,1052.0 868.2,1053.0 869.9,1054.0 871.7,1055.0 873.5,1056.0 875.3,1057.0 877.1,1058.0 878.9,1059.0 880.6,1060.0 882.4,1061.0 884.2,1062.0 886.0,1063.0 887.8,1063.9 889.6,1064.9 891.3,1065.9 893.1,1066.8 894.9,1067.8 896.7,1068.7 898.5,1069.6 900.3,1070.5 902.0,1071.4 903.8,1072.3 905.6,1073.2 907.4,1074.0 909.2,1074.8 911.0,1075.6 912.7,1076.4 914.5,1077.1 916.3,1077.9 918.1,1078.6 919.9,1079.2 921.7,1079.9 923.4,1080.5 925.2,1081.1 927.0,1081.7 928.8,1082.2 930.6,1082.8 932.4,1083.3 934.1,1083.8 935.9,1084.2 937.7,1084.7 939.5,1085.1 941.3,1085.5 943.1,1085.9 944.8,1086.2 946.6,1086.6 948.4,1086.9 950.2,1087.2 952.0,1087.5 953.8,1087.8 955.5,1088.1 957.3,1088.3 959.1,1088.6 960.9,1088.8 962.7,1089.0 964.5,1089.3 966.2,1089.5 968.0,1089.6 969.8,1089.8 971.6,1090.0 973.4,1090.2 975.2,1090.3 976.9,1090.5 978.7,1090.6 980.5,1090.8 982.3,1090.9 984.1,1091.0 985.9,1091.2 987.6,1091.3 989.4,1091.4 991.2,1091.5 993.0,1091.7 994.8,1091.8 996.6,1091.9 998.3,1092.0 1000.1,1092.1 1001.9,1092.3 1003.7,1092.4 1005.5,1092.5 1007.3,1092.7 1009.0,1092.8 1010.8,1093.0 1012.6,1093.1 1014.4,1093.3 1016.2,1093.5 1018.0,1093.6 1019.7,1093.8 1021.5,1094.0 1023.3,1094.1 1025.1,1094.3 1026.9,1094.5 1028.7,1094.7 1030.4,1094.8 1032.2,1095.0 1034.0,1095.2 1035.8,1095.4 1037.6,1095.6 1039.4,1095.7 1041.2,1095.9 1042.9,1096.1 1044.7,1096.3 1046.5,1096.5 1048.3,1096.6 1050.1,1096.8 1051.9,1097.0 1053.6,1097.2 1055.4,1097.3 1057.2,1097.5 1059.0,1097.7 1060.8,1097.8 1062.6,1098.0 1064.3,1098.1 1066.1,1098.3 1067.9,1098.4 1069.7,1098.6 1071.5,1098.7 1073.3,1098.9 1075.0,1099.0 1076.8,1099.1 1078.6,1099.2 1080.4,1099.3 1082.2,1099.4 1084.0,1099.5 1085.7,1099.6 1087.5,1099.7 1089.3,1099.8 1091.1,1099.8 1092.9,1099.9 1094.7,1100.0 1096.4,1100.0 1098.2,1100.0 1100.0,1100.1 1101.8,1100.1 1103.6,1100.1 1105.4,1100.1 1107.1,1100.1 1108.9,1100.1 1110.7,1100.1 1112.5,1100.1 1114.3,1100.1 1116.1,1100.0 1117.8,1100.0 1119.6,1099.9 1121.4,1099.9 1123.2,1099.8 1125.0,1099.8 1126.8,1099.7 1128.5,1099.6 1130.3,1099.6 1132.1,1099.5 1133.9,1099.4 1135.7,1099.3 1137.5,1099.2 1139.2,1099.1 1141.0,1099.0 1142.8,1098.9 1144.6,1098.8 1146.4,1098.6 1148.2,1098.5 1149.9,1098.4 1151.7,1098.3 1153.5,1098.1 1155.3,1098.0 1157.1,1097.8 1158.9,1097.7 1160.6,1097.5 1162.4,1097.4 1164.2,1097.2 1166.0,1097.1 1167.8,1096.9 1169.6,1096.8 1171.3,1096.6 1173.1,1096.4 1174.9,1096.3 1176.7,1096.1 1178.5,1095.9 1180.3,1095.7 1182.0,1095.6 1183.8,1095.4 1185.6,1095.2 1187.4,1095.0 1189.2,1094.9 1191.0,1094.7 1192.7,1094.5 1194.5,1094.3 1196.3,1094.1 1198.1,1094.0 1199.9,1093.8 1201.7,1093.6 1203.4,1093.4 1205.2,1093.2 1207.0,1093.1 1208.8,1092.9 1210.6,1092.7 1212.4,1092.5 1214.2,1092.3 1215.9,1092.2 1217.7,1092.0 1219.5,1091.8 1221.3,1091.7 1223.1,1091.5 1224.9,1091.3 1226.6,1091.2 1228.4,1091.0 1230.2,1090.8 1232.0,1090.7 1233.8,1090.5 1235.6,1090.4 1237.3,1090.2 1239.1,1090.1 1240.9,1089.9 1242.7,1089.8 1244.5,1089.7 1246.3,1089.5 1248.0,1089.4 1249.8,1089.3 1251.6,1089.2 1253.4,1089.1 1255.2,1089.0 1257.0,1088.8 1258.7,1088.7 1260.5,1088.7 1262.3,1088.6 1264.1,1088.5 1265.9,1088.4 1267.7,1088.3 1269.4,1088.3 1271.2,1088.2 1273.0,1088.1 1274.8,1088.1 1276.6,1088.0 1278.4,1088.0 1280.1,1087.9 1281.9,1087.9 1283.7,1087.8 1285.5,1087.8 1287.3,1087.7 1289.1,1087.7 1290.8,1087.6 1292.6,1087.6 1294.4,1087.5 1296.2,1087.5 1298.0,1087.4 1299.8,1087.3 1301.5,1087.3 1303.3,1087.2 1305.1,1087.1 1306.9,1087.0 1308.7,1086.9 1310.5,1086.8 1312.2,1086.7 1314.0,1086.5 1315.8,1086.4 1317.6,1086.3 1319.4,1086.1 1321.2,1085.9 1322.9,1085.7 1324.7,1085.5 1326.5,1085.3 1328.3,1085.1 1330.1,1084.9 1331.9,1084.6 1333.6,1084.4 1335.4,1084.1 1337.2,1083.8 1339.0,1083.4 1340.8,1083.1 1342.6,1082.7 1344.3,1082.4 1346.1,1082.0 1347.9,1081.6 1349.7,1081.1 1351.5,1080.7 1353.3,1080.2 1355.0,1079.7 1356.8,1079.2 1358.6,1078.6 1360.4,1078.0 1362.2,1077.5 1364.0,1076.8 1365.7,1076.2 1367.5,1075.6 1369.3,1074.9 1371.1,1074.3 1372.9,1073.6 1374.7,1072.9 1376.4,1072.1 1378.2,1071.4 1380.0,1070.7 1381.8,1069.9 1383.6,1069.1 1385.4,1068.4 1387.1,1067.6 1388.9,1066.8 1390.7,1066.0 1392.5,1065.2 1394.3,1064.3 1396.1,1063.5 1397.9,1062.7 1399.6,1061.9 1401.4,1061.0 1403.2,1060.2 1405.0,1059.3 1406.8,1058.5 1408.6,1057.6 1410.3,1056.8 1412.1,1055.9 1413.9,1055.1 1415.7,1054.2 1417.5,1053.4 1419.3,1052.5 1421.0,1051.7 1422.8,1050.9 1424.6,1050.1 1426.4,1049.2 1428.2,1048.4 1430.0,1047.6 1431.7,1046.8 1433.5,1046.0 1435.3,1045.2 1437.1,1044.5 1438.9,1043.7 1440.7,1042.9 1442.4,1042.2 1444.2,1041.5 1446.0,1040.8 1447.8,1040.0 1449.6,1039.3 1451.4,1038.6 1453.1,1037.9 1454.9,1037.2 1456.7,1036.6 1458.5,1035.9 1460.3,1035.2 1462.1,1034.5 1463.8,1033.8 1465.6,1033.1 1467.4,1032.4 1469.2,1031.6 1471.0,1030.9 1472.8,1030.2 1474.5,1029.5 1476.3,1028.7 1478.1,1027.9 1479.9,1027.2 1481.7,1026.4 1483.5,1025.6 1485.2,1024.7 1487.0,1023.9 1488.8,1023.0 1490.6,1022.1 1492.4,1021.2 1494.2,1020.3 1495.9,1019.3 1497.7,1018.4 1499.5,1017.4 1501.3,1016.3 1503.1,1015.3 1504.9,1014.2 1506.6,1013.0 1508.4,1011.9 1510.2,1010.7 1512.0,1009.5 1513.8,1008.2 1515.6,1006.9 1517.3,1005.6 1519.1,1004.2 1520.9,1002.8 1522.7,1001.3 1524.5,999.8 1526.3,998.2 1528.0,996.7 1529.8,995.0 1531.6,993.3 1533.4,991.6 1535.2,989.9 1537.0,988.1 1538.7,986.2 1540.5,984.4 1542.3,982.5 1544.1,980.6 1545.9,978.7 1547.7,976.7 1549.4,974.7 1551.2,972.7 1553.0,970.7 1554.8,968.7 1556.6,966.7 1558.4,964.7 1560.1,962.6 1561.9,960.6 1563.7,958.6 1565.5,956.5 1567.3,954.5 1569.1,952.5 1570.9,950.5 1572.6,948.5 1574.4,946.5 1576.2,944.5 1578.0,942.6 1579.8,940.6 1581.6,938.7 1583.3,936.9 1585.1,935.0 1586.9,933.2 1588.7,931.4 1590.5,929.7 1592.3,928.0 1594.0,926.3 1595.8,924.7 1597.6,923.1 1599.4,921.6 1601.2,920.1 1603.0,918.6 1604.7,917.3 1606.5,915.9 1608.3,914.7 1610.1,913.5 1611.9,912.4 1613.7,911.3 1615.4,910.3 1617.2,909.3 1619.0,908.2 1620.8,906.9 1622.6,905.5 1624.4,903.7 1626.1,901.6 1627.9,899.0 1629.7,896.0 1631.5,892.4 1633.3,888.4 1635.1,883.9 1636.8,879.0 1638.6,873.7 1640.4,868.1 1642.2,862.2 1644.0,855.9 1645.8,849.6 1647.5,843.1 1649.3,836.6 1651.1,830.2 1652.9,824.0 1654.7,818.0 1656.5,812.3 1658.2,806.8 1660.0,801.7 1661.8,796.8 1663.6,792.2 1665.4,787.6 1667.2,782.6 1668.9,776.9 1670.7,770.6 1672.5,763.9 1674.3,757.2 1676.1,750.7 1677.9,743.8 1679.6,735.8 1681.4,726.7 1683.2,717.8 1685.0,709.8 1686.8,702.6 1688.6,695.9 1690.3,689.3 1692.1,682.8 1693.9,675.9 1695.7,668.4 1697.5,660.4 1699.3,652.3 1701.0,644.5 1702.8,637.2 1704.6,630.8 1706.4,625.4 1708.2,620.9 1710.0,617.2 1711.7,614.3 1713.5,612.0 1715.3,610.3 1717.1,609.1 1718.9,608.2 1720.7,607.7 1722.4,607.4 1724.2,607.4 1726.0,607.5 1727.8,607.9 1729.6,608.3 1731.4,608.9 1733.1,609.5 1734.9,610.1 1736.7,610.8 1738.5,611.4 1740.3,612.0 1742.1,612.4 1743.8,612.9 1745.6,613.2 1747.4,613.5 1749.2,613.7 1751.0,613.8 1752.8,613.9 1754.6,614.0 1756.3,614.0 1758.1,614.0 1759.9,613.9 1761.7,613.8 1763.5,613.7 1765.3,613.6 1767.0,613.5 1768.8,613.4 1770.6,613.2 1772.4,613.1 1774.2,613.0 1776.0,612.9 1777.7,612.8 1779.5,612.8 1781.3,612.7 1783.1,612.7 1784.9,612.7 1786.7,612.7 1788.4,612.7 1790.2,612.8 1792.0,612.8 1793.8,612.8 1795.6,612.8 1797.4,612.8 1799.1,612.8 1800.9,612.8 1802.7,612.8 1804.5,612.8 1806.3,612.8 1808.1,612.8 1809.8,612.8 1811.6,612.8 1813.4,612.8 1815.2,612.8 1817.0,612.8 1818.8,612.8 1820.5,612.8 1822.3,612.8 1824.1,612.8 1825.9,612.8 1827.7,612.8 1829.5,612.8 1831.2,612.8 1833.0,612.8 1834.8,612.8 1836.6,612.8 1838.4,612.8 1840.2,612.8 1841.9,612.8 1843.7,612.8 1845.5,612.8 1847.3,612.8 1849.1,612.8 1850.9,612.8 1852.6,612.8 1854.4,612.8 1856.2,612.8 1858.0,612.8 1859.8,612.8 1861.6,612.8 1863.3,612.8 1865.1,612.8 1866.9,612.8 1868.7,612.8 1870.5,612.8 1872.3,612.8 1874.0,612.8 1875.8,612.8 1877.6,612.8 1879.4,612.8 1881.2,612.8" fill="none" stroke="#f00" stroke-width="5" stroke-linejoin="round" stroke-linecap="round"/>
<path d="M409.8,587.3L432.0,626.8L387.6,626.8Z" fill="#f00"/>
<path d="M495.4,587.3L517.6,626.8L473.2,626.8Z" fill="#f00"/>
<path d="M579.2,626.3L601.4,665.8L557.0,665.8Z" fill="#f00"/>
<path d="M659.1,888.4L681.3,927.9L636.9,927.9Z" fill="#f00"/>
<path d="M744.7,976.3L766.9,1015.8L722.5,1015.8Z" fill="#f00"/>
<path d="M831.1,1009.3L853.3,1048.8L808.9,1048.8Z" fill="#f00"/>
<path d="M919.2,1053.5L941.4,1093.0L897.0,1093.0Z" fill="#f00"/>
<path d="M1005.8,1067.1L1028.0,1106.6L983.6,1106.6Z" fill="#f00"/>
<path d="M1092.5,1074.4L1114.7,1113.9L1070.3,1113.9Z" fill="#f00"/>
<path d="M1180.6,1070.2L1202.8,1109.7L1158.4,1109.7Z" fill="#f00"/>
<path d="M1266.2,1062.9L1288.4,1102.4L1244.0,1102.4Z" fill="#f00"/>
<path d="M1352.9,1054.8L1375.1,1094.3L1330.7,1094.3Z" fill="#f00"/>
<path d="M1439.6,1017.9L1461.8,1057.4L1417.4,1057.4Z" fill="#f00"/>
<path d="M1527.0,972.1L1549.2,1011.6L1504.8,1011.6Z" fill="#f00"/>
<path d="M1613.7,885.8L1635.9,925.3L1591.5,925.3Z" fill="#f00"/>
<path d="M1694.6,647.5L1716.8,687.0L1672.4,687.0Z" fill="#f00"/>
<path d="M1778.1,587.3L1800.3,626.8L1755.9,626.8Z" fill="#f00"/>
<path d="M1864.1,587.3L1886.3,626.8L1841.9,626.8Z" fill="#f00"/>
<path d="M393.7,612.8 395.5,612.8 397.3,612.8 399.1,612.8 400.9,612.8 402.7,612.8 404.4,612.8 406.2,612.8 408.0,612.8 409.8,612.8 411.6,612.8 413.4,612.8 415.1,612.8 416.9,612.8 418.7,612.8 420.5,612.8 422.3,612.8 424.1,612.8 425.8,612.8 427.6,612.8 429.4,612.8 431.2,612.8 433.0,612.8 434.8,612.8 436.5,612.8 438.3,612.8 440.1,612.8 441.9,612.8 443.7,612.8 445.5,612.8 447.2,612.8 449.0,612.8 450.8,612.8 452.6,612.8 454.4,612.8 456.2,612.8 457.9,612.8 459.7,612.8 461.5,612.8 463.3,612.8 465.1,612.8 466.9,612.8 468.6,612.8 470.4,612.8 472.2,612.8 474.0,612.8 475.8,612.8 477.6,612.8 479.3,612.8 481.1,612.9 482.9,612.9 484.7,612.9 486.5,612.9 488.3,612.9 490.0,612.9 491.8,612.9 493.6,612.9 495.4,612.8 497.2,612.7 499.0,612.6 500.8,612.5 502.5,612.4 504.3,612.3 506.1,612.2 507.9,612.2 509.7,612.2 511.5,612.2 513.2,612.4 515.0,612.6 516.8,612.9 518.6,613.2 520.4,613.7 522.2,614.1 523.9,614.4 525.7,614.6 527.5,614.6 529.3,614.5 531.1,614.0 532.9,613.2 534.6,612.1 536.4,610.6 538.2,608.9 540.0,607.0 541.8,605.2 543.6,603.5 545.3,602.0 547.1,600.6 548.9,599.4 550.7,598.4 552.5,597.5 554.3,596.7 556.0,596.2 557.8,595.9 559.6,595.8 561.4,596.0 563.2,596.8 565.0,598.3 566.7,600.6 568.5,604.2 570.3,609.8 572.1,619.7 573.9,634.8 575.7,652.0 577.4,669.1 579.2,685.1 581.0,700.6 582.8,717.3 584.6,735.7 586.4,754.9 588.1,773.9 589.9,792.0 591.7,809.2 593.5,825.2 595.3,840.0 597.1,853.7 598.8,866.4 600.6,878.1 602.4,888.8 604.2,898.8 606.0,908.0 607.8,916.6 609.5,924.8 611.3,932.5 613.1,940.0 614.9,947.2 616.7,954.2 618.5,961.0 620.2,967.6 622.0,974.0 623.8,980.2 625.6,986.2 627.4,992.1 629.2,997.9 630.9,1003.5 632.7,1009.0 634.5,1014.3 636.3,1019.6 638.1,1024.7 639.9,1029.7 641.6,1034.7 643.4,1039.5 645.2,1044.3 647.0,1048.9 648.8,1053.5 650.6,1058.0 652.3,1062.4 654.1,1066.7 655.9,1070.9 657.7,1075.1 659.5,1079.1 661.3,1083.1 663.0,1087.0 664.8,1090.9 666.6,1094.6 668.4,1098.3 670.2,1101.9 672.0,1105.4 673.7,1108.9 675.5,1112.3 677.3,1115.6 679.1,1118.8 680.9,1122.0 682.7,1125.1 684.5,1128.2 686.2,1131.2 688.0,1134.1 689.8,1136.9 691.6,1139.8 693.4,1142.5 695.2,1145.2 696.9,1147.8 698.7,1150.4 700.5,1152.9 702.3,1155.4 704.1,1157.8 705.9,1160.2 707.6,1162.5 709.4,1164.8 711.2,1167.0 713.0,1169.2 714.8,1171.3 716.6,1173.4 718.3,1175.5 720.1,1177.5 721.9,1179.4 723.7,1181.4 725.5,1183.3 727.3,1185.1 729.0,1186.9 730.8,1188.7 732.6,1190.5 734.4,1192.2 736.2,1193.9 738.0,1195.6 739.7,1197.2 741.5,1198.8 743.3,1200.4 745.1,1202.0 746.9,1203.5 748.7,1205.0 750.4,1206.5 752.2,1208.0 754.0,1209.4 755.8,1210.9 757.6,1212.3 759.4,1213.6 761.1,1215.0 762.9,1216.4 764.7,1217.7 766.5,1219.0 768.3,1220.3 770.1,1221.6 771.8,1222.8 773.6,1224.1 775.4,1225.3 777.2,1226.5 779.0,1227.8 780.8,1229.0 782.5,1230.1 784.3,1231.3 786.1,1232.5 787.9,1233.7 789.7,1234.8 791.5,1236.0 793.2,1237.1 795.0,1238.2 796.8,1239.4 798.6,1240.5 800.4,1241.6 802.2,1242.7 803.9,1243.8 805.7,1244.9 807.5,1246.1 809.3,1247.2 811.1,1248.3 812.9,1249.4 814.6,1250.5 816.4,1251.6 818.2,1252.8 820.0,1253.9 821.8,1255.0 823.6,1256.1 825.3,1257.3 827.1,1258.4 828.9,1259.6 830.7,1260.7 832.5,1261.9 834.3,1263.1 836.0,1264.3 837.8,1265.5 839.6,1266.6 841.4,1267.8 843.2,1269.0 845.0,1270.2 846.7,1271.4 848.5,1272.6 850.3,1273.8 852.1,1275.0 853.9,1276.2 855.7,1277.4 857.5,1278.7 859.2,1279.9 861.0,1281.1 862.8,1282.3 864.6,1283.4 866.4,1284.6 868.2,1285.8 869.9,1287.0 871.7,1288.2 873.5,1289.4 875.3,1290.5 877.1,1291.7 878.9,1292.8 880.6,1294.0 882.4,1295.1 884.2,1296.3 886.0,1297.4 887.8,1298.5 889.6,1299.6 891.3,1300.7 893.1,1301.8 894.9,1302.8 896.7,1303.9 898.5,1304.9 900.3,1306.0 902.0,1307.0 903.8,1308.0 905.6,1309.0 907.4,1310.0 909.2,1310.9 911.0,1311.9 912.7,1312.8 914.5,1313.7 916.3,1314.6 918.1,1315.5 919.9,1316.3 921.7,1317.2 923.4,1318.0 925.2,1318.8 927.0,1319.6 928.8,1320.3 930.6,1321.1 932.4,1321.8 934.1,1322.6 935.9,1323.3 937.7,1324.0 939.5,1324.6 941.3,1325.3 943.1,1325.9 944.8,1326.6 946.6,1327.2 948.4,1327.8 950.2,1328.4 952.0,1329.0 953.8,1329.6 955.5,1330.1 957.3,1330.7 959.1,1331.2 960.9,1331.7 962.7,1332.2 964.5,1332.7 966.2,1333.2 968.0,1333.7 969.8,1334.2 971.6,1334.6 973.4,1335.1 975.2,1335.5 976.9,1336.0 978.7,1336.4 980.5,1336.8 982.3,1337.2 984.1,1337.6 985.9,1338.0 987.6,1338.4 989.4,1338.8 991.2,1339.2 993.0,1339.5 994.8,1339.9 996.6,1340.2 998.3,1340.6 1000.1,1340.9 1001.9,1341.3 1003.7,1341.6 1005.5,1341.9 1007.3,1342.3 1009.0,1342.6 1010.8,1342.9 1012.6,1343.2 1014.4,1343.5 1016.2,1343.8 1018.0,1344.1 1019.7,1344.4 1021.5,1344.7 1023.3,1345.0 1025.1,1345.3 1026.9,1345.5 1028.7,1345.8 1030.4,1346.1 1032.2,1346.3 1034.0,1346.6 1035.8,1346.8 1037.6,1347.0 1039.4,1347.3 1041.2,1347.5 1042.9,1347.7 1044.7,1347.9 1046.5,1348.1 1048.3,1348.3 1050.1,1348.5 1051.9,1348.7 1053.6,1348.9 1055.4,1349.0 1057.2,1349.2 1059.0,1349.3 1060.8,1349.5 1062.6,1349.6 1064.3,1349.8 1066.1,1349.9 1067.9,1350.0 1069.7,1350.1 1071.5,1350.2 1073.3,1350.3 1075.0,1350.4 1076.8,1350.5 1078.6,1350.5 1080.4,1350.6 1082.2,1350.6 1084.0,1350.7 1085.7,1350.7 1087.5,1350.7 1089.3,1350.8 1091.1,1350.8 1092.9,1350.8 1094.7,1350.8 1096.4,1350.7 1098.2,1350.7 1100.0,1350.7 1101.8,1350.6 1103.6,1350.6 1105.4,1350.5 1107.1,1350.5 1108.9,1350.4 1110.7,1350.3 1112.5,1350.2 1114.3,1350.1 1116.1,1350.0 1117.8,1349.9 1119.6,1349.8 1121.4,1349.7 1123.2,1349.6 1125.0,1349.4 1126.8,1349.3 1128.5,1349.2 1130.3,1349.0 1132.1,1348.9 1133.9,1348.7 1135.7,1348.6 1137.5,1348.4 1139.2,1348.3 1141.0,1348.1 1142.8,1347.9 1144.6,1347.8 1146.4,1347.6 1148.2,1347.4 1149.9,1347.2 1151.7,1347.1 1153.5,1346.9 1155.3,1346.7 1157.1,1346.5 1158.9,1346.4 1160.6,1346.2 1162.4,1346.0 1164.2,1345.8 1166.0,1345.6 1167.8,1345.5 1169.6,1345.3 1171.3,1345.1 1173.1,1344.9 1174.9,1344.7 1176.7,1344.6 1178.5,1344.4 1180.3,1344.2 1182.0,1344.1 1183.8,1343.9 1185.6,1343.7 1187.4,1343.6 1189.2,1343.4 1191.0,1343.3 1192.7,1343.1 1194.5,1342.9 1196.3,1342.8 1198.1,1342.6 1199.9,1342.5 1201.7,1342.3 1203.4,1342.2 1205.2,1342.0 1207.0,1341.9 1208.8,1341.7 1210.6,1341.6 1212.4,1341.4 1214.2,1341.3 1215.9,1341.1 1217.7,1340.9 1219.5,1340.8 1221.3,1340.6 1223.1,1340.4 1224.9,1340.3 1226.6,1340.1 1228.4,1339.9 1230.2,1339.8 1232.0,1339.6 1233.8,1339.4 1235.6,1339.2 1237.3,1339.0 1239.1,1338.8 1240.9,1338.7 1242.7,1338.5 1244.5,1338.2 1246.3,1338.0 1248.0,1337.8 1249.8,1337.6 1251.6,1337.4 1253.4,1337.2 1255.2,1336.9 1257.0,1336.7 1258.7,1336.4 1260.5,1336.2 1262.3,1335.9 1264.1,1335.7 1265.9,1335.4 1267.7,1335.1 1269.4,1334.9 1271.2,1334.6 1273.0,1334.3 1274.8,1334.0 1276.6,1333.7 1278.4,1333.3 1280.1,1333.0 1281.9,1332.7 1283.7,1332.3 1285.5,1332.0 1287.3,1331.7 1289.1,1331.3 1290.8,1330.9 1292.6,1330.6 1294.4,1330.2 1296.2,1329.8 1298.0,1329.4 1299.8,1329.1 1301.5,1328.7 1303.3,1328.3 1305.1,1327.9 1306.9,1327.4 1308.7,1327.0 1310.5,1326.6 1312.2,1326.2 1314.0,1325.7 1315.8,1325.3 1317.6,1324.9 1319.4,1324.4 1321.2,1324.0 1322.9,1323.5 1324.7,1323.0 1326.5,1322.6 1328.3,1322.1 1330.1,1321.6 1331.9,1321.2 1333.6,1320.7 1335.4,1320.2 1337.2,1319.7 1339.0,1319.2 1340.8,1318.7 1342.6,1318.2 1344.3,1317.7 1346.1,1317.2 1347.9,1316.7 1349.7,1316.1 1351.5,1315.6 1353.3,1315.1 1355.0,1314.6 1356.8,1314.0 1358.6,1313.5 1360.4,1313.0 1362.2,1312.4 1364.0,1311.9 1365.7,1311.3 1367.5,1310.8 1369.3,1310.2 1371.1,1309.6 1372.9,1309.1 1374.7,1308.5 1376.4,1307.9 1378.2,1307.3 1380.0,1306.7 1381.8,1306.1 1383.6,1305.5 1385.4,1304.9 1387.1,1304.2 1388.9,1303.6 1390.7,1302.9 1392.5,1302.3 1394.3,1301.6 1396.1,1300.9 1397.9,1300.2 1399.6,1299.5 1401.4,1298.8 1403.2,1298.1 1405.0,1297.3 1406.8,1296.6 1408.6,1295.8 1410.3,1295.0 1412.1,1294.2 1413.9,1293.4 1415.7,1292.6 1417.5,1291.8 1419.3,1290.9 1421.0,1290.0 1422.8,1289.2 1424.6,1288.3 1426.4,1287.3 1428.2,1286.4 1430.0,1285.5 1431.7,1284.5 1433.5,1283.5 1435.3,1282.5 1437.1,1281.5 1438.9,1280.4 1440.7,1279.4 1442.4,1278.3 1444.2,1277.2 1446.0,1276.1 1447.8,1274.9 1449.6,1273.8 1451.4,1272.6 1453.1,1271.4 1454.9,1270.2 1456.7,1268.9 1458.5,1267.7 1460.3,1266.4 1462.1,1265.1 1463.8,1263.8 1465.6,1262.5 1467.4,1261.1 1469.2,1259.8 1471.0,1258.4 1472.8,1257.0 1474.5,1255.6 1476.3,1254.2 1478.1,1252.8 1479.9,1251.4 1481.7,1249.9 1483.5,1248.5 1485.2,1247.0 1487.0,1245.5 1488.8,1244.0 1490.6,1242.5 1492.4,1241.0 1494.2,1239.4 1495.9,1237.9 1497.7,1236.4 1499.5,1234.8 1501.3,1233.2 1503.1,1231.7 1504.9,1230.1 1506.6,1228.5 1508.4,1226.9 1510.2,1225.3 1512.0,1223.7 1513.8,1222.1 1515.6,1220.5 1517.3,1218.9 1519.1,1217.2 1520.9,1215.6 1522.7,1214.0 1524.5,1212.4 1526.3,1210.7 1528.0,1209.1 1529.8,1207.4 1531.6,1205.8 1533.4,1204.2 1535.2,1202.5 1537.0,1200.9 1538.7,1199.2 1540.5,1197.5 1542.3,1195.9 1544.1,1194.2 1545.9,1192.5 1547.7,1190.8 1549.4,1189.0 1551.2,1187.3 1553.0,1185.5 1554.8,1183.7 1556.6,1181.8 1558.4,1179.9 1560.1,1178.0 1561.9,1176.1 1563.7,1174.1 1565.5,1172.0 1567.3,1169.9 1569.1,1167.8 1570.9,1165.5 1572.6,1163.3 1574.4,1161.0 1576.2,1158.6 1578.0,1156.1 1579.8,1153.6 1581.6,1151.0 1583.3,1148.4 1585.1,1145.6 1586.9,1142.8 1588.7,1139.9 1590.5,1137.0 1592.3,1133.9 1594.0,1130.7 1595.8,1127.5 1597.6,1124.2 1599.4,1120.7 1601.2,1117.2 1603.0,1113.5 1604.7,1109.8 1606.5,1105.9 1608.3,1102.0 1610.1,1097.9 1611.9,1093.7 1613.7,1089.4 1615.4,1085.0 1617.2,1080.4 1619.0,1075.7 1620.8,1070.9 1622.6,1065.9 1624.4,1060.8 1626.1,1055.6 1627.9,1050.2 1629.7,1044.6 1631.5,1038.8 1633.3,1032.8 1635.1,1026.5 1636.8,1020.1 1638.6,1013.5 1640.4,1006.9 1642.2,1000.1 1644.0,993.4 1645.8,986.7 1647.5,980.3 1649.3,974.2 1651.1,968.8 1652.9,964.2 1654.7,960.5 1656.5,958.0 1658.2,955.8 1660.0,953.3 1661.8,949.5 1663.6,943.5 1665.4,935.4 1667.2,925.7 1668.9,915.2 1670.7,904.4 1672.5,893.9 1674.3,883.5 1676.1,873.0 1677.9,862.1 1679.6,850.8 1681.4,838.5 1683.2,824.7 1685.0,808.7 1686.8,791.2 1688.6,776.3 1690.3,763.0 1692.1,748.8 1693.9,735.1 1695.7,719.5 1697.5,700.5 1699.3,678.5 1701.0,657.9 1702.8,642.8 1704.6,632.6 1706.4,625.3 1708.2,619.1 1710.0,613.8 1711.7,609.4 1713.5,606.0 1715.3,603.5 1717.1,601.7 1718.9,600.6 1720.7,600.0 1722.4,599.6 1724.2,599.5 1726.0,599.6 1727.8,599.8 1729.6,600.2 1731.4,600.7 1733.1,601.3 1734.9,602.0 1736.7,602.8 1738.5,603.7 1740.3,604.5 1742.1,605.4 1743.8,606.3 1745.6,607.1 1747.4,607.9 1749.2,608.7 1751.0,609.5 1752.8,610.1 1754.6,610.7 1756.3,611.2 1758.1,611.6 1759.9,612.0 1761.7,612.2 1763.5,612.5 1765.3,612.6 1767.0,612.7 1768.8,612.8 1770.6,612.8 1772.4,612.8 1774.2,612.8 1776.0,612.8 1777.7,612.8 1779.5,612.8 1781.3,612.8 1783.1,612.8 1784.9,612.8 1786.7,612.8 1788.4,612.8 1790.2,612.8 1792.0,612.8 1793.8,612.8 1795.6,612.8 1797.4,612.8 1799.1,612.8 1800.9,612.8 1802.7,612.8 1804.5,612.8 1806.3,612.8 1808.1,612.8 1809.8,612.8 1811.6,612.8 1813.4,612.8 1815.2,612.8 1817.0,612.8 1818.8,612.8 1820.5,612.8 1822.3,612.8 1824.1,612.8 1825.9,612.8 1827.7,612.8 1829.5,612.8 1831.2,612.8 1833.0,612.8 1834.8,612.8 1836.6,612.8 1838.4,612.8 1840.2,612.8 1841.9,612.8 1843.7,612.8 1845.5,612.8 1847.3,612.8 1849.1,612.8 1850.9,612.8 1852.6,612.8 1854.4,612.8 1856.2,612.8 1858.0,612.8 1859.8,612.8 1861.6,612.8 1863.3,612.8 1865.1,612.8 1866.9,612.8 1868.7,612.8 1870.5,612.8 1872.3,612.8 1874.0,612.8 1875.8,612.8 1877.6,612.8 1879.4,612.8 1881.2,612.8" fill="none" stroke="#00f" stroke-width="5" stroke-linejoin="round" stroke-linecap="round"/>
<circle cx="409.8" cy="612.8" r="19" fill="#00f"/>
<circle cx="495.4" cy="612.8" r="19" fill="#00f"/>
<circle cx="577.8" cy="672.4" r="19" fill="#00f"/>
<circle cx="649.9" cy="1056.2" r="19" fill="#00f"/>
<circle cx="738.3" cy="1195.9" r="19" fill="#00f"/>
<circle cx="827.1" cy="1258.4" r="19" fill="#00f"/>
<circle cx="915.9" cy="1314.4" r="19" fill="#00f"/>
<circle cx="1003.7" cy="1341.6" r="19" fill="#00f"/>
<circle cx="1091.8" cy="1350.8" r="19" fill="#00f"/>
<circle cx="1180.3" cy="1344.2" r="19" fill="#00f"/>
<circle cx="1268.0" cy="1335.1" r="19" fill="#00f"/>
<circle cx="1356.5" cy="1314.1" r="19" fill="#00f"/>
<circle cx="1444.9" cy="1276.7" r="19" fill="#00f"/>
<circle cx="1534.1" cy="1203.5" r="19" fill="#00f"/>
<circle cx="1622.2" cy="1066.9" r="19" fill="#00f"/>
<circle cx="1697.1" cy="704.6" r="19" fill="#00f"/>
<circle cx="1778.1" cy="612.8" r="19" fill="#00f"/>
<circle cx="1864.1" cy="612.8" r="19" fill="#00f"/>
</g>
<g clip-path="url(#cb)">
<path d="M392.0,3572.0 399.0,3590.0 410.0,3572.0 425.7,3565.7 445.3,3555.1 461.5,3560.8 469.7,3567.3 492.0,3562.0 500.0,3570.0 513.5,3563.8 522.2,3553.1 532.0,3549.2 541.8,3551.1 546.7,3547.2 571.1,3546.4 585.8,3538.4 591.6,3538.4 597.5,3524.7 610.0,3528.6 626.3,3527.7 653.8,3528.8 672.9,3530.9 683.5,3534.1 703.8,3535.6 711.2,3549.4 721.8,3551.5 740.4,3551.9 759.9,3558.9 774.7,3555.7 783.2,3556.8 791.6,3561.0 806.5,3560.0 825.9,3553.2 859.4,3561.0 876.3,3568.4 889.0,3568.4 911.3,3572.0 929.3,3566.3 954.7,3568.4 971.8,3568.4 997.4,3572.0 1013.3,3568.4 1037.7,3564.8 1049.9,3562.3 1083.7,3562.3 1106.1,3555.0 1113.5,3552.6 1120.8,3561.1 1135.5,3559.9 1168.9,3557.4 1196.5,3557.4 1213.6,3562.3 1234.7,3562.6 1254.7,3568.0 1273.8,3561.4 1300.6,3562.6 1322.6,3559.0 1340.9,3565.1 1366.6,3563.9 1391.0,3565.1 1405.7,3559.0 1426.4,3560.2 1444.8,3559.0 1454.5,3565.1 1466.8,3556.5 1483.9,3555.3 1490.7,3560.6 1511.5,3549.0 1532.0,3543.6 1551.7,3542.7 1564.2,3544.5 1569.6,3547.2 1597.7,3532.9 1630.5,3536.5 1641.2,3529.3 1653.8,3530.2 1661.8,3516.8 1682.6,3536.0 1701.1,3526.0 1707.2,3522.9 1721.4,3526.0 1745.0,3528.0 1767.5,3517.4 1770.0,3533.1 1775.1,3558.6 1789.3,3545.3 1796.5,3558.6 1805.0,3548.0 1818.9,3549.4 1825.0,3565.0 1835.0,3560.0 1850.0,3570.0 1870.0,3567.0 1889.0,3570.0" fill="none" stroke="#000" stroke-width="4.6" stroke-linejoin="round" stroke-linecap="round"/>
<rect x="384.0" y="3575.0" width="30" height="30" fill="#fff" stroke="#000" stroke-width="3.2"/>
<rect x="477.0" y="3547.0" width="30" height="30" fill="#fff" stroke="#000" stroke-width="3.2"/>
<rect x="556.1" y="3531.4" width="30" height="30" fill="#fff" stroke="#000" stroke-width="3.2"/>
<rect x="638.8" y="3513.8" width="30" height="30" fill="#fff" stroke="#000" stroke-width="3.2"/>
<rect x="725.4" y="3536.9" width="30" height="30" fill="#fff" stroke="#000" stroke-width="3.2"/>
<rect x="810.9" y="3538.2" width="30" height="30" fill="#fff" stroke="#000" stroke-width="3.2"/>
<rect x="896.3" y="3562.0" width="30" height="30" fill="#fff" stroke="#000" stroke-width="3.2"/>
<rect x="982.4" y="3560.8" width="30" height="30" fill="#fff" stroke="#000" stroke-width="3.2"/>
<rect x="1068.7" y="3547.3" width="30" height="30" fill="#fff" stroke="#000" stroke-width="3.2"/>
<rect x="1153.9" y="3542.4" width="30" height="30" fill="#fff" stroke="#000" stroke-width="3.2"/>
<rect x="1239.7" y="3556.2" width="30" height="30" fill="#fff" stroke="#000" stroke-width="3.2"/>
<rect x="1325.9" y="3550.1" width="30" height="30" fill="#fff" stroke="#000" stroke-width="3.2"/>
<rect x="1411.4" y="3545.2" width="30" height="30" fill="#fff" stroke="#000" stroke-width="3.2"/>
<rect x="1496.5" y="3534.0" width="30" height="30" fill="#fff" stroke="#000" stroke-width="3.2"/>
<rect x="1582.7" y="3517.9" width="30" height="30" fill="#fff" stroke="#000" stroke-width="3.2"/>
<rect x="1667.6" y="3521.0" width="30" height="30" fill="#fff" stroke="#000" stroke-width="3.2"/>
<rect x="1752.5" y="3502.4" width="30" height="30" fill="#fff" stroke="#000" stroke-width="3.2"/>
<rect x="1853.0" y="3557.0" width="30" height="30" fill="#fff" stroke="#000" stroke-width="3.2"/>
<path d="M392.0,3578.0 410.0,3597.0 429.0,3572.2 440.4,3576.3 463.2,3573.8 480.0,3580.0 496.0,3595.0 512.0,3585.0 530.0,3583.0 545.0,3580.0 548.6,3573.6 553.5,3561.9 558.4,3528.6 564.3,3499.3 580.8,3498.5 597.0,3503.2 601.4,3506.2 607.3,3495.4 613.6,3501.3 622.1,3497.0 630.6,3499.1 636.9,3492.8 664.0,3489.2 683.5,3489.6 702.7,3491.2 719.6,3492.2 749.3,3496.0 766.2,3495.4 781.0,3496.5 791.6,3498.6 802.2,3500.7 817.0,3502.8 835.7,3503.2 859.4,3507.0 870.0,3514.4 880.6,3512.3 891.1,3509.2 921.8,3514.4 957.1,3513.5 964.4,3520.8 1007.9,3517.1 1024.3,3515.9 1049.9,3520.8 1062.2,3515.9 1093.9,3515.9 1111.0,3512.2 1135.5,3511.0 1147.7,3514.7 1179.9,3517.9 1208.7,3514.7 1240.0,3512.2 1265.9,3515.2 1300.6,3523.6 1322.6,3523.6 1351.4,3515.2 1371.5,3518.7 1391.0,3521.1 1410.0,3518.0 1437.4,3508.9 1454.5,3515.0 1488.7,3515.0 1506.9,3512.3 1523.9,3510.5 1542.7,3506.9 1551.7,3508.7 1558.8,3503.3 1573.2,3506.0 1580.3,3501.5 1591.1,3500.6 1609.3,3500.1 1630.5,3488.1 1637.6,3498.8 1644.8,3493.5 1659.1,3492.6 1677.1,3491.7 1693.5,3493.0 1707.2,3471.0 1714.3,3521.9 1721.4,3523.9 1727.5,3572.8 1737.7,3574.8 1746.9,3577.9 1760.0,3560.0 1779.0,3575.0 1797.5,3585.0 1807.7,3574.8 1815.8,3582.0 1830.0,3574.8 1839.2,3577.9 1855.0,3572.0 1868.0,3575.0 1889.0,3578.0" fill="none" stroke="#000" stroke-width="4.6" stroke-linejoin="round" stroke-linecap="round"/>
<rect x="393.2" y="3580.2" width="33.5" height="33.5" rx="2.5" fill="#000"/>
<rect x="479.2" y="3578.2" width="33.5" height="33.5" rx="2.5" fill="#000"/>
<rect x="564.0" y="3481.8" width="33.5" height="33.5" rx="2.5" fill="#000"/>
<rect x="647.2" y="3472.4" width="33.5" height="33.5" rx="2.5" fill="#000"/>
<rect x="732.5" y="3479.2" width="33.5" height="33.5" rx="2.5" fill="#000"/>
<rect x="819.0" y="3486.4" width="33.5" height="33.5" rx="2.5" fill="#000"/>
<rect x="905.0" y="3497.7" width="33.5" height="33.5" rx="2.5" fill="#000"/>
<rect x="991.1" y="3500.3" width="33.5" height="33.5" rx="2.5" fill="#000"/>
<rect x="1077.2" y="3499.2" width="33.5" height="33.5" rx="2.5" fill="#000"/>
<rect x="1163.2" y="3501.2" width="33.5" height="33.5" rx="2.5" fill="#000"/>
<rect x="1249.2" y="3498.4" width="33.5" height="33.5" rx="2.5" fill="#000"/>
<rect x="1334.7" y="3498.4" width="33.5" height="33.5" rx="2.5" fill="#000"/>
<rect x="1420.7" y="3492.2" width="33.5" height="33.5" rx="2.5" fill="#000"/>
<rect x="1507.2" y="3493.8" width="33.5" height="33.5" rx="2.5" fill="#000"/>
<rect x="1592.5" y="3483.3" width="33.5" height="33.5" rx="2.5" fill="#000"/>
<rect x="1676.8" y="3476.2" width="33.5" height="33.5" rx="2.5" fill="#000"/>
<rect x="1762.2" y="3558.2" width="33.5" height="33.5" rx="2.5" fill="#000"/>
<rect x="1851.2" y="3558.2" width="33.5" height="33.5" rx="2.5" fill="#000"/>
<path d="M392.0,3570.0 410.4,3567.2 428.3,3562.5 443.7,3564.9 446.2,3551.9 451.9,3547.0 460.0,3560.0 470.0,3565.0 487.5,3565.0 505.6,3580.4 511.0,3566.7 521.3,3578.5 524.7,3583.4 531.0,3544.3 538.9,3576.5 545.7,3578.5 548.6,3528.6 553.5,3499.3 558.4,3470.0 569.2,3343.5 571.9,3300.0 572.5,3245.0 579.2,3234.5 597.6,3232.1 617.1,3237.0 623.2,3252.9 641.5,3252.9 658.6,3252.1 668.4,3268.7 673.3,3283.4 682.0,3292.4 701.5,3294.8 708.9,3303.4 718.6,3304.6 746.0,3311.9 762.6,3324.1 774.8,3335.1 782.2,3346.1 793.2,3347.4 804.1,3363.2 818.8,3368.1 832.7,3371.8 853.0,3392.6 870.1,3408.4 876.2,3408.4 883.6,3401.1 893.3,3406.0 904.3,3403.5 919.4,3415.0 936.1,3406.0 955.9,3404.7 962.0,3424.3 984.0,3420.6 1006.0,3418.7 1023.1,3415.7 1035.3,3419.4 1049.9,3417.7 1057.3,3410.9 1067.0,3410.9 1079.3,3417.0 1092.7,3424.3 1115.9,3419.4 1135.5,3417.0 1142.8,3424.3 1157.4,3424.3 1179.4,3419.4 1199.0,3417.0 1221.0,3415.7 1229.8,3418.5 1244.4,3408.7 1266.4,3413.6 1283.5,3412.4 1295.7,3411.2 1301.8,3427.0 1310.4,3418.5 1317.7,3422.2 1322.6,3409.9 1332.4,3408.7 1353.2,3393.8 1366.6,3388.0 1373.9,3392.8 1381.3,3384.3 1388.6,3386.7 1395.9,3379.4 1403.2,3381.8 1417.9,3362.3 1439.9,3359.4 1454.5,3344.0 1464.3,3339.1 1471.7,3330.5 1481.4,3334.2 1505.9,3333.0 1526.9,3321.6 1544.0,3310.1 1555.0,3306.4 1564.7,3288.1 1578.2,3286.9 1585.5,3274.7 1600.0,3270.0 1614.0,3262.0 1634.4,3247.8 1641.7,3266.1 1649.0,3257.6 1680.8,3256.4 1695.5,3272.2 1707.7,3251.5 1710.1,3260.0 1715.0,3400.0 1725.5,3528.0 1735.7,3540.2 1757.1,3542.3 1762.0,3583.0 1779.0,3584.0 1795.0,3590.0 1820.0,3588.0 1836.0,3591.0 1860.0,3565.0 1884.0,3537.0" fill="none" stroke="#f00" stroke-width="4.6" stroke-linejoin="round" stroke-linecap="round"/>
<path d="M410.4,3541.7L432.6,3581.2L388.2,3581.2Z" fill="#f00"/>
<path d="M487.5,3539.5L509.7,3579.0L465.3,3579.0Z" fill="#f00"/>
<path d="M579.2,3209.0L601.4,3248.5L557.0,3248.5Z" fill="#f00"/>
<path d="M658.6,3226.6L680.8,3266.1L636.4,3266.1Z" fill="#f00"/>
<path d="M746.0,3286.4L768.2,3325.9L723.8,3325.9Z" fill="#f00"/>
<path d="M832.7,3346.3L854.9,3385.8L810.5,3385.8Z" fill="#f00"/>
<path d="M919.4,3389.5L941.6,3429.0L897.2,3429.0Z" fill="#f00"/>
<path d="M1006.0,3393.2L1028.2,3432.7L983.8,3432.7Z" fill="#f00"/>
<path d="M1092.7,3398.8L1114.9,3438.3L1070.5,3438.3Z" fill="#f00"/>
<path d="M1179.4,3393.9L1201.6,3433.4L1157.2,3433.4Z" fill="#f00"/>
<path d="M1266.4,3388.1L1288.6,3427.6L1244.2,3427.6Z" fill="#f00"/>
<path d="M1353.2,3368.3L1375.4,3407.8L1331.0,3407.8Z" fill="#f00"/>
<path d="M1439.9,3333.9L1462.1,3373.4L1417.7,3373.4Z" fill="#f00"/>
<path d="M1526.9,3296.1L1549.1,3335.6L1504.7,3335.6Z" fill="#f00"/>
<path d="M1614.0,3236.5L1636.2,3276.0L1591.8,3276.0Z" fill="#f00"/>
<path d="M1695.5,3246.7L1717.7,3286.2L1673.3,3286.2Z" fill="#f00"/>
<path d="M1779.0,3560.5L1801.2,3600.0L1756.8,3600.0Z" fill="#f00"/>
<path d="M1864.0,3560.5L1886.2,3600.0L1841.8,3600.0Z" fill="#f00"/>
<path d="M392.0,3545.0 399.4,3544.7 410.0,3540.0 425.0,3538.9 431.5,3534.8 438.9,3546.2 443.7,3545.4 448.6,3525.8 455.0,3540.0 461.7,3511.2 469.8,3534.0 478.8,3519.3 486.1,3509.5 489.8,3475.8 498.2,3474.8 513.0,3460.0 515.2,3449.4 525.8,3334.0 542.7,3334.0 548.0,3358.3 555.4,3356.2 558.6,3379.5 569.6,3407.0 584.0,3383.7 590.3,3415.5 597.7,3402.8 617.9,3404.9 625.3,3410.2 632.7,3410.2 653.8,3420.8 672.9,3432.4 675.0,3448.3 681.4,3448.3 688.8,3462.1 704.8,3461.5 710.1,3492.2 717.5,3497.5 739.8,3500.7 751.4,3517.6 764.1,3526.1 774.7,3521.9 783.2,3519.7 790.6,3531.4 798.0,3527.2 805.0,3527.0 825.5,3525.0 834.0,3543.0 838.2,3538.8 855.1,3538.8 870.0,3545.1 882.7,3550.4 893.3,3547.3 911.3,3557.2 927.1,3544.1 937.7,3540.9 949.8,3548.9 966.9,3548.9 976.6,3552.6 997.4,3553.3 1013.3,3552.6 1020.6,3547.7 1032.8,3539.1 1045.1,3536.7 1054.8,3530.6 1064.6,3528.1 1083.7,3532.5 1103.7,3528.1 1111.0,3513.5 1118.4,3528.1 1125.7,3529.4 1133.0,3522.0 1140.3,3528.1 1168.9,3528.9 1186.8,3528.1 1199.0,3524.5 1206.3,3533.0 1216.1,3535.5 1224.6,3534.2 1233.4,3524.8 1240.0,3535.0 1255.4,3541.9 1278.6,3530.9 1293.3,3534.5 1310.4,3535.8 1322.6,3529.7 1341.4,3541.1 1366.6,3530.9 1376.4,3529.7 1383.7,3535.8 1395.9,3530.9 1426.4,3517.0 1444.8,3512.6 1454.5,3524.8 1464.3,3510.1 1480.0,3511.4 1489.0,3509.6 1497.9,3498.8 1513.1,3486.3 1526.6,3478.2 1533.7,3462.1 1540.9,3462.1 1549.9,3453.2 1560.6,3450.5 1573.2,3448.7 1591.1,3451.4 1594.7,3441.5 1599.1,3429.9 1612.6,3424.5 1623.3,3430.8 1634.1,3423.6 1648.4,3417.3 1660.9,3412.8 1669.9,3420.0 1677.1,3418.2 1680.6,3395.8 1684.2,3383.3 1699.0,3411.0 1708.2,3405.9 1711.3,3395.7 1727.5,3409.9 1732.6,3438.4 1739.8,3416.0 1746.9,3420.1 1754.0,3395.7 1768.3,3414.4 1770.3,3428.3 1774.4,3483.2 1782.5,3511.7 1789.6,3503.6 1796.8,3535.1 1810.7,3494.4 1817.8,3580.0 1829.0,3567.7 1832.1,3537.2 1841.3,3551.4 1848.0,3575.0 1866.0,3565.0 1884.0,3537.0" fill="none" stroke="#f00" stroke-width="4.6" stroke-linejoin="round" stroke-linecap="round"/>
<path d="M399.4,3521.4L419.9,3556.4L378.9,3556.4Z" fill="#fff" stroke="#f00" stroke-width="3.4"/>
<path d="M486.1,3486.2L506.6,3521.2L465.6,3521.2Z" fill="#fff" stroke="#f00" stroke-width="3.4"/>
<path d="M569.6,3383.7L590.1,3418.7L549.1,3418.7Z" fill="#fff" stroke="#f00" stroke-width="3.4"/>
<path d="M653.8,3397.5L674.3,3432.5L633.3,3432.5Z" fill="#fff" stroke="#f00" stroke-width="3.4"/>
<path d="M739.8,3477.4L760.3,3512.4L719.3,3512.4Z" fill="#fff" stroke="#f00" stroke-width="3.4"/>
<path d="M825.5,3501.7L846.0,3536.7L805.0,3536.7Z" fill="#fff" stroke="#f00" stroke-width="3.4"/>
<path d="M911.3,3533.9L931.8,3568.9L890.8,3568.9Z" fill="#fff" stroke="#f00" stroke-width="3.4"/>
<path d="M997.4,3530.0L1017.9,3565.0L976.9,3565.0Z" fill="#fff" stroke="#f00" stroke-width="3.4"/>
<path d="M1083.7,3509.2L1104.2,3544.2L1063.2,3544.2Z" fill="#fff" stroke="#f00" stroke-width="3.4"/>
<path d="M1168.9,3505.6L1189.4,3540.6L1148.4,3540.6Z" fill="#fff" stroke="#f00" stroke-width="3.4"/>
<path d="M1255.4,3518.6L1275.9,3553.6L1234.9,3553.6Z" fill="#fff" stroke="#f00" stroke-width="3.4"/>
<path d="M1341.4,3517.8L1361.9,3552.8L1320.9,3552.8Z" fill="#fff" stroke="#f00" stroke-width="3.4"/>
<path d="M1426.4,3493.7L1446.9,3528.7L1405.9,3528.7Z" fill="#fff" stroke="#f00" stroke-width="3.4"/>
<path d="M1513.1,3463.0L1533.6,3498.0L1492.6,3498.0Z" fill="#fff" stroke="#f00" stroke-width="3.4"/>
<path d="M1599.1,3406.6L1619.6,3441.6L1578.6,3441.6Z" fill="#fff" stroke="#f00" stroke-width="3.4"/>
<path d="M1684.2,3360.0L1704.7,3395.0L1663.7,3395.0Z" fill="#fff" stroke="#f00" stroke-width="3.4"/>
<path d="M1768.3,3391.1L1788.8,3426.1L1747.8,3426.1Z" fill="#fff" stroke="#f00" stroke-width="3.4"/>
<path d="M1866.0,3568.7L1886.5,3603.7L1845.5,3603.7Z" fill="#fff" stroke="#f00" stroke-width="3.4"/>
<path d="M392.0,3282.0 399.7,3272.4 414.3,3261.4 426.5,3241.9 435.1,3241.9 449.7,3193.0 457.1,3232.1 464.4,3238.2 471.7,3255.3 479.1,3210.1 487.1,3194.2 490.1,3175.9 494.9,3138.0 502.3,3138.0 508.4,3111.2 515.7,3139.3 521.8,3063.5 529.1,3037.9 545.0,3037.9 551.1,3092.8 558.5,3059.9 563.4,3075.7 571.9,3088.0 585.3,3100.2 590.2,3111.2 597.6,3105.1 617.1,3103.8 623.2,3130.7 631.8,3131.9 651.3,3140.5 666.0,3161.3 673.3,3200.3 680.6,3199.1 686.9,3221.5 695.4,3239.9 702.8,3241.1 708.9,3299.7 717.4,3304.6 738.2,3322.9 745.5,3341.3 752.8,3368.1 765.1,3395.0 774.8,3402.3 789.5,3413.3 795.6,3406.0 805.4,3406.0 824.9,3429.2 831.0,3448.8 838.4,3448.8 853.0,3452.4 861.5,3461.5 867.7,3469.5 876.2,3467.1 883.6,3475.6 892.1,3468.3 911.5,3477.0 931.4,3473.2 939.8,3479.5 948.6,3489.0 963.2,3493.9 974.2,3497.6 997.9,3504.4 1020.6,3509.8 1026.7,3506.1 1035.3,3496.4 1041.4,3496.4 1048.7,3475.6 1059.7,3473.2 1083.7,3471.2 1103.7,3469.5 1112.2,3440.2 1120.8,3473.2 1128.1,3473.2 1135.5,3463.4 1142.8,3469.5 1169.7,3480.5 1189.2,3485.4 1199.0,3485.4 1207.5,3491.5 1213.6,3504.9 1221.0,3496.4 1227.3,3516.2 1234.7,3493.0 1240.8,3510.1 1256.2,3516.7 1276.2,3505.2 1286.0,3504.0 1293.3,3507.7 1300.6,3516.2 1308.0,3508.9 1317.7,3506.4 1322.6,3496.7 1341.4,3507.2 1359.3,3491.8 1378.8,3483.2 1386.1,3493.0 1393.5,3484.5 1400.8,3484.5 1408.1,3466.1 1428.2,3453.9 1447.2,3450.3 1457.0,3455.1 1464.3,3428.3 1476.5,3424.6 1487.2,3413.7 1494.3,3408.4 1501.5,3394.0 1506.9,3374.3 1514.6,3355.2 1535.4,3324.8 1542.8,3329.7 1550.1,3295.5 1558.6,3293.0 1568.4,3280.8 1573.3,3278.4 1595.3,3279.6 1601.4,3235.6 1612.4,3219.7 1617.3,3208.7 1624.6,3219.7 1631.9,3212.4 1638.0,3196.5 1646.6,3196.5 1652.7,3177.0 1671.0,3174.5 1686.2,3159.9 1695.5,3175.7 1700.3,3202.6 1707.7,3202.6 1712.4,3172.0 1716.5,3256.4 1726.0,3212.4 1733.3,3231.9 1740.7,3233.2 1746.8,3246.6 1754.1,3228.3 1759.0,3256.4 1767.5,3272.2 1770.0,3293.0 1773.6,3356.5 1781.0,3381.0 1785.9,3400.0 1794.7,3430.3 1811.0,3438.4 1813.8,3470.0 1814.8,3500.5 1815.8,3527.0 1824.0,3537.2 1832.1,3505.6 1837.2,3517.8 1853.5,3528.0 1859.6,3563.6 1866.0,3568.0 1875.9,3557.5 1883.0,3526.0" fill="none" stroke="#00f" stroke-width="4.6" stroke-linejoin="round" stroke-linecap="round"/>
<circle cx="399.7" cy="3272.4" r="16.8" fill="#fff" stroke="#00f" stroke-width="3.2"/>
<circle cx="487.1" cy="3194.2" r="16.8" fill="#fff" stroke="#00f" stroke-width="3.2"/>
<circle cx="571.9" cy="3088.0" r="16.8" fill="#fff" stroke="#00f" stroke-width="3.2"/>
<circle cx="651.3" cy="3140.5" r="16.8" fill="#fff" stroke="#00f" stroke-width="3.2"/>
<circle cx="738.2" cy="3322.9" r="16.8" fill="#fff" stroke="#00f" stroke-width="3.2"/>
<circle cx="824.9" cy="3429.2" r="16.8" fill="#fff" stroke="#00f" stroke-width="3.2"/>
<circle cx="911.5" cy="3477.0" r="16.8" fill="#fff" stroke="#00f" stroke-width="3.2"/>
<circle cx="997.9" cy="3504.4" r="16.8" fill="#fff" stroke="#00f" stroke-width="3.2"/>
<circle cx="1083.7" cy="3471.2" r="16.8" fill="#fff" stroke="#00f" stroke-width="3.2"/>
<circle cx="1169.7" cy="3480.5" r="16.8" fill="#fff" stroke="#00f" stroke-width="3.2"/>
<circle cx="1256.2" cy="3516.7" r="16.8" fill="#fff" stroke="#00f" stroke-width="3.2"/>
<circle cx="1341.4" cy="3507.2" r="16.8" fill="#fff" stroke="#00f" stroke-width="3.2"/>
<circle cx="1428.2" cy="3453.9" r="16.8" fill="#fff" stroke="#00f" stroke-width="3.2"/>
<circle cx="1514.6" cy="3355.2" r="16.8" fill="#fff" stroke="#00f" stroke-width="3.2"/>
<circle cx="1601.4" cy="3235.6" r="16.8" fill="#fff" stroke="#00f" stroke-width="3.2"/>
<circle cx="1686.2" cy="3159.9" r="16.8" fill="#fff" stroke="#00f" stroke-width="3.2"/>
<circle cx="1767.5" cy="3272.2" r="16.8" fill="#fff" stroke="#00f" stroke-width="3.2"/>
<circle cx="1853.5" cy="3528.0" r="16.8" fill="#fff" stroke="#00f" stroke-width="3.2"/>
<path d="M392.0,3556.0 410.4,3554.3 422.6,3522.6 431.5,3511.2 438.9,3533.2 446.2,3526.6 455.1,3540.5 466.5,3553.5 495.9,3555.1 502.7,3580.0 513.5,3560.0 522.2,3553.0 529.5,3496.0 532.0,3496.0 537.0,3538.0 546.7,3538.4 550.6,3489.5 552.5,3470.0 555.0,3449.0 560.0,3400.0 567.0,3354.0 568.1,3280.0 568.5,3200.0 570.2,3000.0 571.8,2724.0 577.9,2705.2 586.4,2722.8 591.3,2735.0 597.4,2732.5 603.5,2732.5 609.6,2739.9 613.3,2788.7 618.2,2793.6 623.1,2797.3 629.2,2814.4 637.7,2824.1 649.9,2840.8 662.2,2860.8 670.7,2875.5 678.0,2910.9 686.6,2917.0 700.0,2910.9 708.6,2921.9 714.7,2934.1 738.1,2939.1 750.9,2952.5 760.6,2952.5 766.7,3000.2 777.7,3009.9 789.9,3011.2 797.3,3040.5 804.6,3040.5 811.9,3056.4 827.1,3070.3 842.5,3083.2 848.6,3102.8 858.4,3110.1 870.6,3113.8 880.3,3122.3 887.7,3126.0 893.8,3145.5 915.8,3146.8 953.6,3145.5 959.7,3168.8 968.3,3167.5 975.6,3176.1 983.2,3172.1 1004.0,3174.0 1024.7,3170.9 1033.3,3185.5 1040.6,3185.0 1048.0,3191.6 1055.3,3186.7 1062.6,3190.4 1074.8,3205.1 1091.9,3222.2 1115.1,3222.2 1122.5,3229.5 1131.0,3229.5 1138.4,3234.4 1144.5,3247.8 1151.8,3247.8 1159.1,3252.7 1179.9,3243.4 1200.7,3244.1 1209.2,3239.3 1217.8,3239.3 1225.1,3233.2 1233.6,3233.9 1240.0,3229.7 1247.3,3221.1 1268.1,3217.0 1281.5,3204.0 1297.4,3188.6 1305.5,3207.2 1312.1,3193.0 1320.6,3193.0 1326.7,3165.6 1336.5,3165.6 1356.8,3144.1 1378.8,3147.8 1385.4,3131.4 1393.9,3131.4 1400.0,3107.5 1409.8,3109.9 1415.9,3086.7 1423.2,3079.4 1445.2,3082.3 1450.1,3044.0 1459.9,3044.0 1474.5,3020.8 1481.9,3009.3 1489.2,3015.9 1496.5,3009.8 1504.9,3012.9 1517.1,2997.0 1534.2,2984.3 1551.3,2972.6 1557.4,2959.1 1563.5,2938.4 1569.6,2926.1 1578.2,2900.5 1585.5,2896.8 1594.1,2884.6 1600.2,2880.9 1608.7,2880.9 1612.4,2857.7 1622.2,2841.8 1641.7,2841.8 1650.3,2854.1 1657.6,2838.2 1663.7,2843.1 1671.0,2837.0 1674.7,2808.9 1678.4,2806.4 1691.8,2826.0 1697.4,2805.2 1707.7,2782.0 1711.0,2900.0 1712.6,3100.0 1713.5,3250.0 1716.0,3320.0 1721.0,3400.0 1727.5,3513.8 1735.7,3532.1 1749.9,3533.1 1757.1,3511.7 1763.0,3560.0 1779.7,3574.8 1800.5,3575.9 1807.7,3543.3 1820.9,3575.9 1829.0,3557.5 1837.2,3567.7 1845.3,3556.5 1864.2,3583.5 1878.0,3575.0 1889.0,3580.0" fill="none" stroke="#00f" stroke-width="4.6" stroke-linejoin="round" stroke-linecap="round"/>
<circle cx="410.4" cy="3554.3" r="19" fill="#00f"/>
<circle cx="495.9" cy="3555.1" r="19" fill="#00f"/>
<circle cx="577.9" cy="2705.2" r="19" fill="#00f"/>
<circle cx="649.9" cy="2840.8" r="19" fill="#00f"/>
<circle cx="738.1" cy="2939.1" r="19" fill="#00f"/>
<circle cx="827.1" cy="3070.3" r="19" fill="#00f"/>
<circle cx="915.8" cy="3146.8" r="19" fill="#00f"/>
<circle cx="1004.0" cy="3174.0" r="19" fill="#00f"/>
<circle cx="1091.9" cy="3222.2" r="19" fill="#00f"/>
<circle cx="1179.9" cy="3243.4" r="19" fill="#00f"/>
<circle cx="1268.1" cy="3217.0" r="19" fill="#00f"/>
<circle cx="1356.8" cy="3144.1" r="19" fill="#00f"/>
<circle cx="1445.2" cy="3082.3" r="19" fill="#00f"/>
<circle cx="1534.2" cy="2984.3" r="19" fill="#00f"/>
<circle cx="1622.2" cy="2841.8" r="19" fill="#00f"/>
<circle cx="1697.4" cy="2805.2" r="19" fill="#00f"/>
<circle cx="1779.7" cy="3574.8" r="19" fill="#00f"/>
<circle cx="1864.2" cy="3583.5" r="19" fill="#00f"/>
</g>
<rect x="548" y="165" width="1146" height="417" stroke="#000" stroke-width="2.4" fill="none"/>
<text x="590.3" y="250.8" font-size="84" textLength="551.2" lengthAdjust="spacing" >Unfixed geogrid</text>
<text x="1182.2" y="250.8" font-size="84" textLength="468.9" lengthAdjust="spacing" >Fixed geogrid</text>
<path d="M591.4,323.1H775.7" stroke="#000" stroke-width="5" stroke-linecap="round"/>
<rect x="668.5" y="308.1" width="30" height="30" fill="#fff" stroke="#000" stroke-width="3.2"/>
<path d="M1173.4,323.1H1358.5" stroke="#000" stroke-width="5" stroke-linecap="round"/>
<rect x="1249.2" y="306.4" width="33.5" height="33.5" rx="2.5" fill="#000"/>
<text x="798.4" y="350.5" font-size="84" textLength="269.3" lengthAdjust="spacing" fill="#000">100 kPa</text>
<text x="1382.5" y="350.5" font-size="84" textLength="269.3" lengthAdjust="spacing" fill="#000">100 kPa</text>
<path d="M591.4,423.1H775.7" stroke="#f00" stroke-width="5" stroke-linecap="round"/>
<path d="M683.5,399.8L704.0,434.8L663.0,434.8Z" fill="#fff" stroke="#f00" stroke-width="3.4"/>
<path d="M1173.4,423.1H1358.5" stroke="#f00" stroke-width="5" stroke-linecap="round"/>
<path d="M1266.0,397.6L1288.2,437.1L1243.8,437.1Z" fill="#f00"/>
<text x="801.8" y="450.5" font-size="84" textLength="266.0" lengthAdjust="spacing" fill="#f00">300 kPa</text>
<text x="1385.9" y="450.5" font-size="84" textLength="266.0" lengthAdjust="spacing" fill="#f00">300 kPa</text>
<path d="M591.4,523.1H775.7" stroke="#00f" stroke-width="5" stroke-linecap="round"/>
<circle cx="683.5" cy="523.1" r="16.8" fill="#fff" stroke="#00f" stroke-width="3.2"/>
<path d="M1173.4,523.1H1358.5" stroke="#00f" stroke-width="5" stroke-linecap="round"/>
<circle cx="1266.0" cy="523.1" r="19" fill="#00f"/>
<text x="800.9" y="550.5" font-size="84" textLength="266.8" lengthAdjust="spacing" fill="#00f">500 kPa</text>
<text x="1385.0" y="550.5" font-size="84" textLength="266.8" lengthAdjust="spacing" fill="#00f">500 kPa</text>
<rect x="626" y="2289.5" width="1146" height="417" stroke="#000" stroke-width="2.4" fill="none"/>
<text x="668.3" y="2375.3" font-size="84" textLength="551.2" lengthAdjust="spacing" >Unfixed geogrid</text>
<text x="1260.2" y="2375.3" font-size="84" textLength="468.9" lengthAdjust="spacing" >Fixed geogrid</text>
<path d="M669.4,2447.6H853.7" stroke="#000" stroke-width="5" stroke-linecap="round"/>
<rect x="746.5" y="2432.6" width="30" height="30" fill="#fff" stroke="#000" stroke-width="3.2"/>
<path d="M1251.4,2447.6H1436.5" stroke="#000" stroke-width="5" stroke-linecap="round"/>
<rect x="1327.2" y="2430.8" width="33.5" height="33.5" rx="2.5" fill="#000"/>
<text x="876.4" y="2475.0" font-size="84" textLength="269.3" lengthAdjust="spacing" fill="#000">100 kPa</text>
<text x="1460.5" y="2475.0" font-size="84" textLength="269.3" lengthAdjust="spacing" fill="#000">100 kPa</text>
<path d="M669.4,2547.6H853.7" stroke="#f00" stroke-width="5" stroke-linecap="round"/>
<path d="M761.5,2524.3L782.0,2559.3L741.0,2559.3Z" fill="#fff" stroke="#f00" stroke-width="3.4"/>
<path d="M1251.4,2547.6H1436.5" stroke="#f00" stroke-width="5" stroke-linecap="round"/>
<path d="M1344.0,2522.1L1366.2,2561.6L1321.8,2561.6Z" fill="#f00"/>
<text x="879.8" y="2575.0" font-size="84" textLength="266.0" lengthAdjust="spacing" fill="#f00">300 kPa</text>
<text x="1463.9" y="2575.0" font-size="84" textLength="266.0" lengthAdjust="spacing" fill="#f00">300 kPa</text>
<path d="M669.4,2647.6H853.7" stroke="#00f" stroke-width="5" stroke-linecap="round"/>
<circle cx="761.5" cy="2647.6" r="16.8" fill="#fff" stroke="#00f" stroke-width="3.2"/>
<path d="M1251.4,2647.6H1436.5" stroke="#00f" stroke-width="5" stroke-linecap="round"/>
<circle cx="1344.0" cy="2647.6" r="19" fill="#00f"/>
<text x="878.9" y="2675.0" font-size="84" textLength="266.8" lengthAdjust="spacing" fill="#00f">500 kPa</text>
<text x="1463.0" y="2675.0" font-size="84" textLength="266.8" lengthAdjust="spacing" fill="#00f">500 kPa</text>
<text x="893.0" y="1700.0" font-size="84" textLength="495.1" lengthAdjust="spacing" >Distance (mm)</text>
<text x="893.0" y="3840.0" font-size="84" textLength="495.1" lengthAdjust="spacing" >Distance (mm)</text>
<text transform="translate(173.7,1471.4) rotate(-90)" x="0" y="0" font-size="84" textLength="1269.4" lengthAdjust="spacing">Vertical displacement of geogrid (mm)</text>
<text transform="translate(200.9,3427.8) rotate(-90)" x="0" y="0" font-size="84" textLength="906.6" lengthAdjust="spacing">Axial force of geogrid (kN)</text>
<text x="399.4" y="1897.7" font-size="80" font-weight="bold" textLength="1403.6" lengthAdjust="spacing"><tspan font-weight="normal">(</tspan>a<tspan font-weight="normal">)</tspan> Vertical displacements of the geogrid.</text>
<text x="583.4" y="4038.2" font-size="80" font-weight="bold" textLength="1037.1" lengthAdjust="spacing"><tspan font-weight="normal">(</tspan>b<tspan font-weight="normal">)</tspan> Axial forces of the geogrid.</text>
</svg>
</body></html>
